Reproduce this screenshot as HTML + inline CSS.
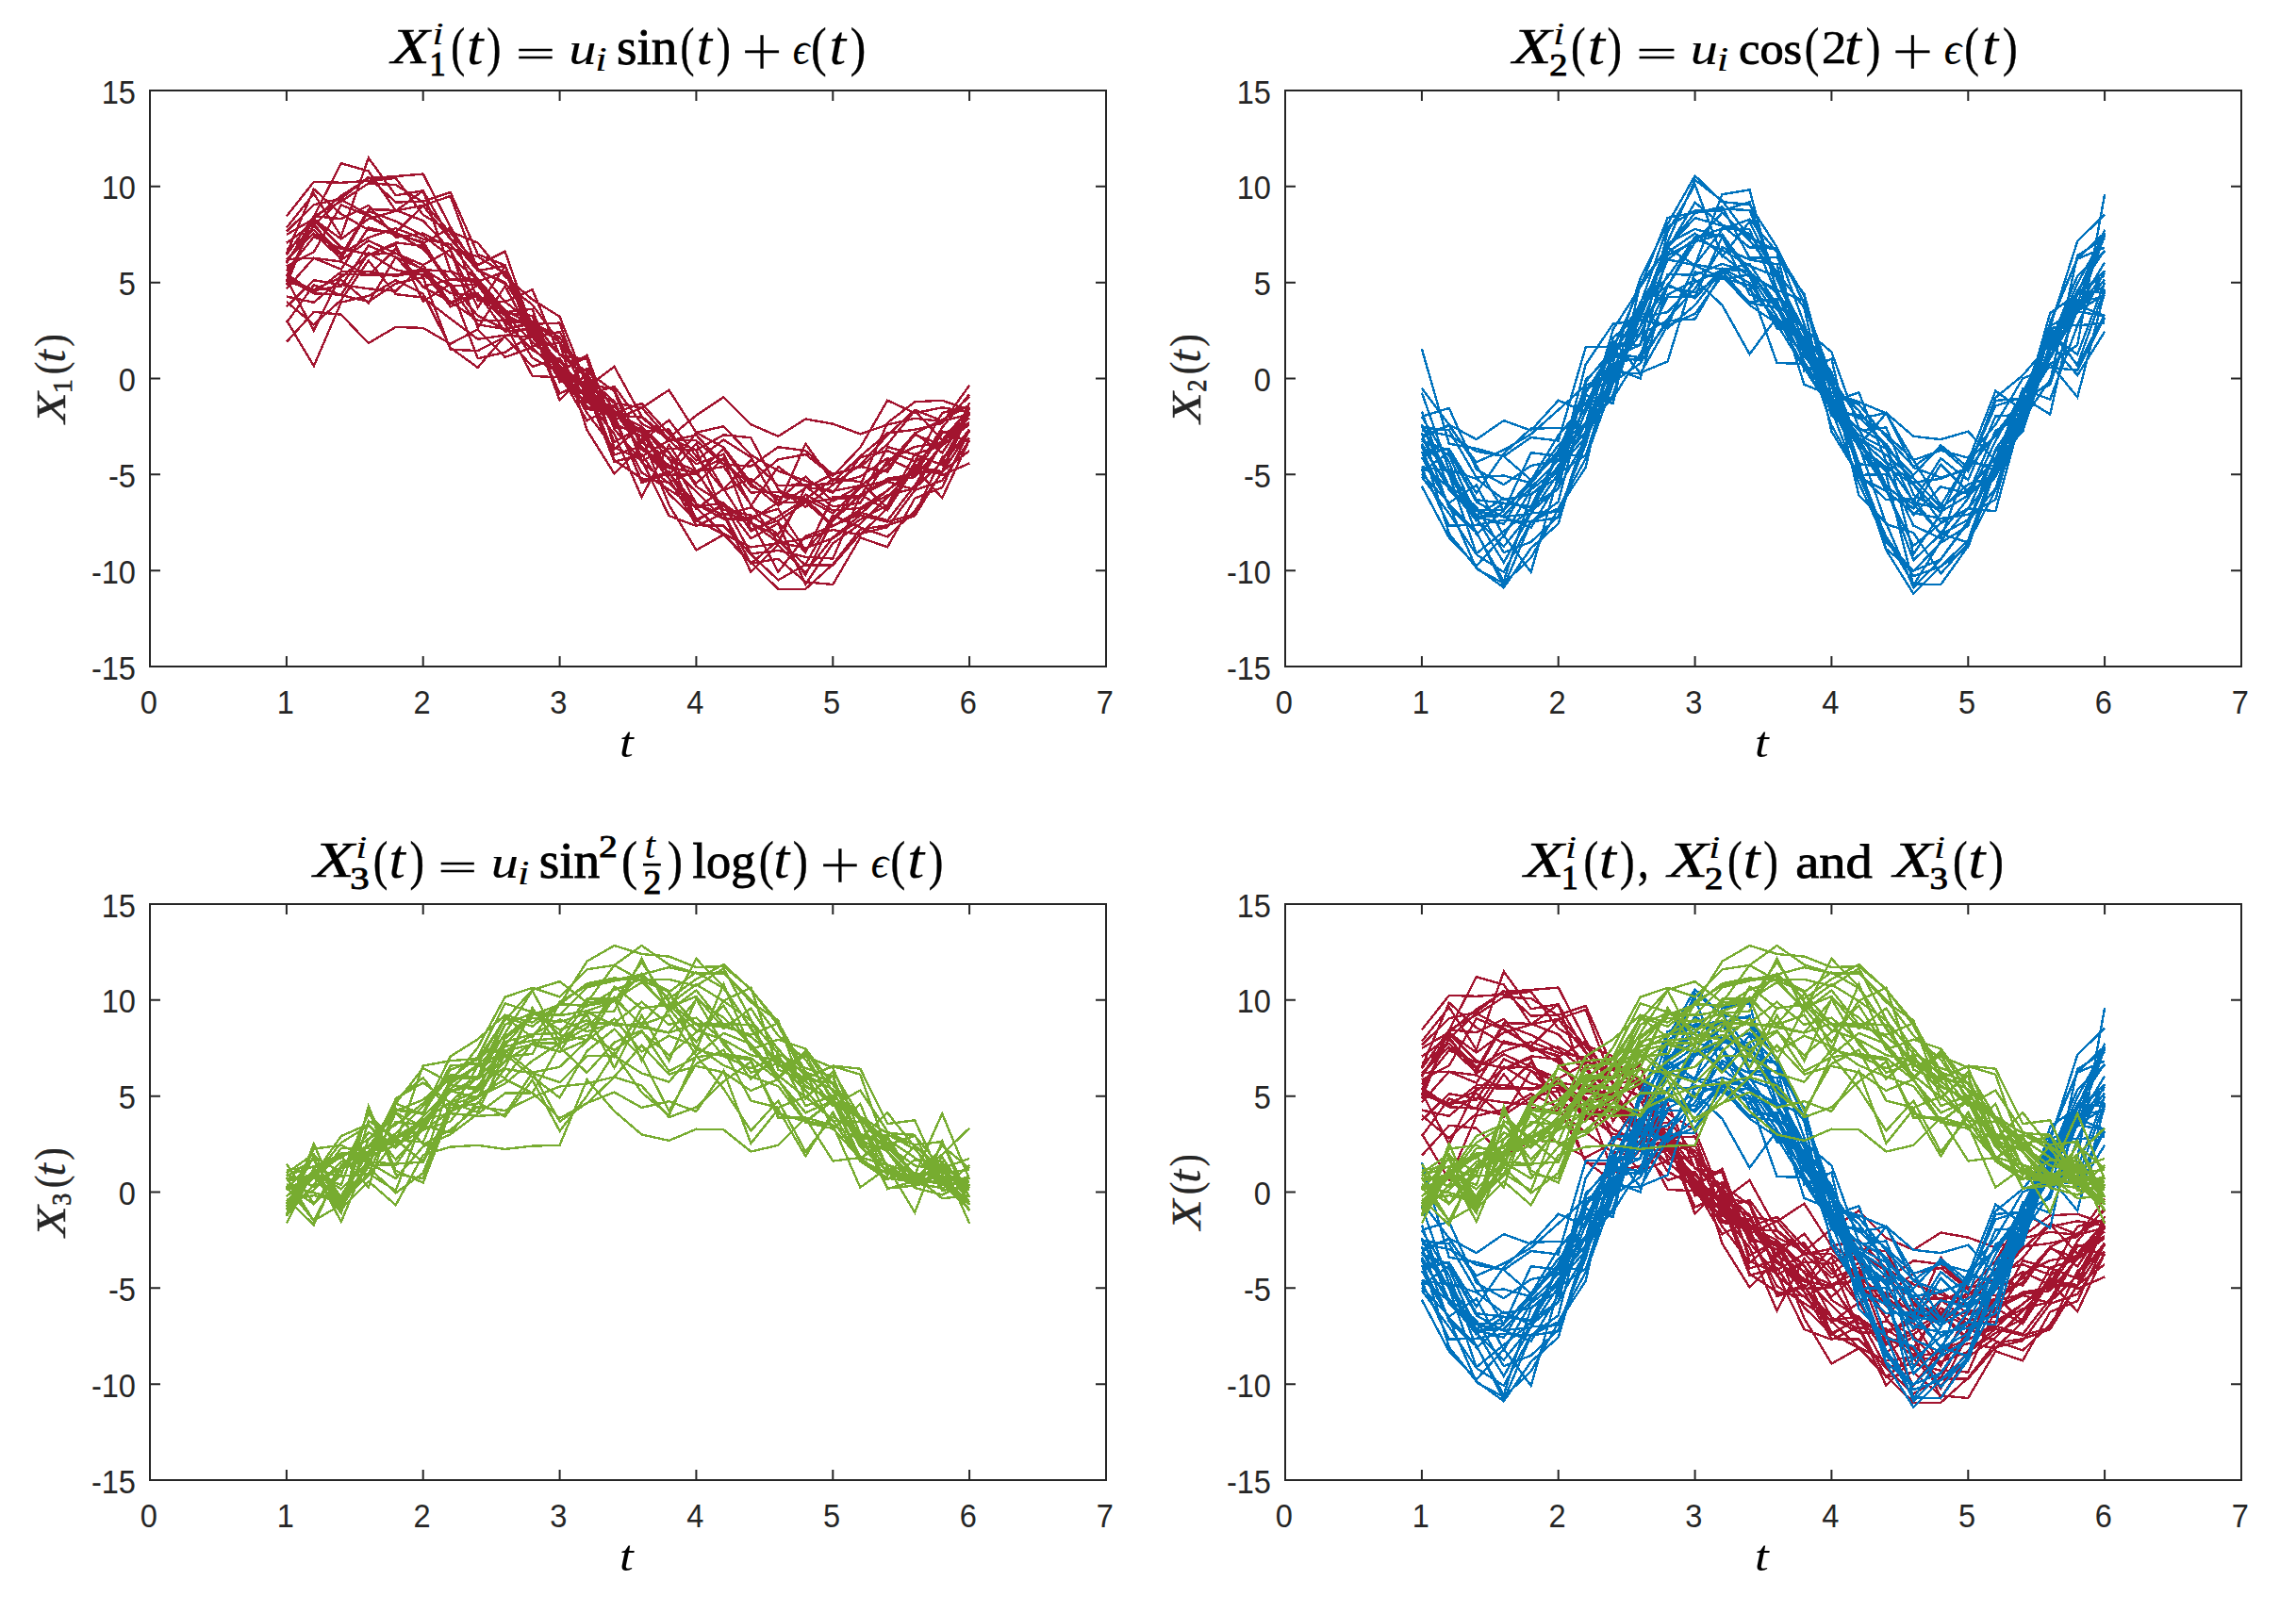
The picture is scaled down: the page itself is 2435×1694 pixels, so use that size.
<!DOCTYPE html>
<html lang="en"><head><meta charset="utf-8"><title>Simulated functional data</title>
<style>
html,body{margin:0;padding:0;background:#fff}
svg{display:block}
text{font-size:100px;fill:#000}
.r{font-family:'Liberation Serif',serif;}
.i{font-family:'Liberation Serif',serif;font-style:italic;}
.b{font-family:'Liberation Serif',serif;font-weight:bold;}
.bi{font-family:'Liberation Serif',serif;font-style:italic;font-weight:bold;}
.s{font-family:'Liberation Sans',sans-serif;}
.l{font-family:'DejaVu Sans Light','DejaVu Sans',sans-serif;font-weight:200;}
.tk text{font-size:32.6px;fill:#262626}
.yl text{fill:#262626;stroke:#262626;stroke-width:.3px;vector-effect:non-scaling-stroke}
.ttl text{stroke:#000;stroke-width:.4px;vector-effect:non-scaling-stroke}
.yl .X{stroke:#262626;stroke-width:.5px;vector-effect:non-scaling-stroke}
.ttl .w{stroke-width:.9px}
.ttl .i{stroke-width:.15px}
.ttl .d{stroke-width:1px}
.ttl .X{stroke-width:.6px}
.yl .d{stroke:#262626;stroke-width:.7px;vector-effect:non-scaling-stroke}
</style></head>
<body>
<svg width="2435" height="1694" viewBox="0 0 2435 1694">
<rect width="2435" height="1694" fill="#fff"/>
<g fill="none" stroke="#A2142F" stroke-width="2.4" stroke-linejoin="miter" shape-rendering="crispEdges">
<polyline points="303.9,287.2 332.8,251.1 361.8,263.8 390.8,269.8 419.7,268.6 448.7,286.1 477.7,288.0 506.7,316.4 535.6,334.5 564.6,379.6 593.6,395.4 622.5,376.7 651.5,455.2 680.5,488.7 709.5,475.8 738.4,477.4 767.4,546.1 796.4,538.4 825.3,553.9 854.3,586.1 883.3,527.1 912.3,525.9 941.2,507.6 970.2,503.4 999.2,459.6 1028.1,449.7"/>
<polyline points="303.9,320.2 332.8,344.3 361.8,318.2 390.8,276.4 419.7,312.1 448.7,315.5 477.7,338.1 506.7,359.8 535.6,355.7 564.6,357.6 593.6,393.1 622.5,409.8 651.5,427.4 680.5,432.7 709.5,413.7 738.4,458.9 767.4,474.5 796.4,511.8 825.3,487.4 854.3,482.0 883.3,504.9 912.3,474.8 941.2,424.7 970.2,438.2 999.2,432.3 1028.1,436.9"/>
<polyline points="303.9,295.9 332.8,350.6 361.8,290.9 390.8,291.5 419.7,291.6 448.7,285.3 477.7,303.5 506.7,380.2 535.6,373.7 564.6,355.1 593.6,403.6 622.5,406.9 651.5,413.2 680.5,474.3 709.5,496.7 738.4,458.9 767.4,452.2 796.4,482.6 825.3,499.5 854.3,510.0 883.3,522.9 912.3,485.2 941.2,478.2 970.2,489.4 999.2,438.0 1028.1,430.7"/>
<polyline points="303.9,290.3 332.8,310.8 361.8,288.3 390.8,288.0 419.7,292.9 448.7,287.6 477.7,325.2 506.7,313.4 535.6,331.3 564.6,327.8 593.6,405.6 622.5,390.9 651.5,435.8 680.5,459.5 709.5,503.8 738.4,503.1 767.4,476.1 796.4,516.0 825.3,526.7 854.3,529.4 883.3,508.0 912.3,511.0 941.2,539.2 970.2,492.4 999.2,504.1 1028.1,491.5"/>
<polyline points="303.9,269.1 332.8,200.5 361.8,227.1 390.8,243.9 419.7,246.5 448.7,218.4 477.7,253.6 506.7,286.9 535.6,299.4 564.6,342.4 593.6,357.8 622.5,400.9 651.5,443.8 680.5,509.9 709.5,500.1 738.4,553.0 767.4,534.0 796.4,587.4 825.3,583.9 854.3,590.8 883.3,592.5 912.3,525.6 941.2,510.9 970.2,519.4 999.2,469.6 1028.1,443.3"/>
<polyline points="303.9,302.3 332.8,229.2 361.8,232.1 390.8,217.9 419.7,251.8 448.7,247.5 477.7,263.0 506.7,272.2 535.6,290.4 564.6,343.8 593.6,342.6 622.5,424.1 651.5,460.4 680.5,527.4 709.5,471.7 738.4,516.0 767.4,534.5 796.4,554.2 825.3,575.4 854.3,581.3 883.3,571.1 912.3,551.0 941.2,535.9 970.2,481.6 999.2,472.7 1028.1,450.0"/>
<polyline points="303.9,282.5 332.8,267.3 361.8,217.4 390.8,229.0 419.7,246.8 448.7,264.3 477.7,296.8 506.7,298.7 535.6,288.0 564.6,355.6 593.6,383.4 622.5,415.7 651.5,440.2 680.5,512.0 709.5,501.9 738.4,539.9 767.4,518.5 796.4,563.6 825.3,547.9 854.3,529.2 883.3,557.5 912.3,545.5 941.2,519.8 970.2,500.4 999.2,500.8 1028.1,437.3"/>
<polyline points="303.9,229.4 332.8,192.9 361.8,193.8 390.8,191.9 419.7,188.9 448.7,227.9 477.7,245.7 506.7,257.5 535.6,293.2 564.6,317.7 593.6,335.9 622.5,409.2 651.5,449.3 680.5,462.5 709.5,535.5 738.4,583.6 767.4,567.1 796.4,597.6 825.3,592.8 854.3,617.3 883.3,620.0 912.3,570.3 941.2,580.3 970.2,528.6 999.2,517.0 1028.1,455.9"/>
<polyline points="303.9,245.6 332.8,217.3 361.8,210.7 390.8,187.8 419.7,214.6 448.7,213.5 477.7,203.9 506.7,269.7 535.6,281.3 564.6,367.0 593.6,363.9 622.5,456.1 651.5,502.5 680.5,473.5 709.5,507.3 738.4,557.2 767.4,557.7 796.4,587.9 825.3,615.3 854.3,598.8 883.3,546.6 912.3,559.4 941.2,569.4 970.2,541.8 999.2,500.9 1028.1,457.4"/>
<polyline points="303.9,306.1 332.8,273.7 361.8,285.7 390.8,241.4 419.7,248.7 448.7,256.5 477.7,303.7 506.7,301.3 535.6,333.8 564.6,362.5 593.6,389.2 622.5,437.9 651.5,476.3 680.5,452.3 709.5,487.2 738.4,499.6 767.4,486.0 796.4,561.9 825.3,552.3 854.3,533.1 883.3,528.9 912.3,528.0 941.2,474.1 970.2,482.2 999.2,493.3 1028.1,455.2"/>
<polyline points="303.9,241.6 332.8,205.4 361.8,250.4 390.8,167.5 419.7,207.2 448.7,202.3 477.7,253.0 506.7,285.0 535.6,320.2 564.6,307.2 593.6,376.9 622.5,381.1 651.5,474.6 680.5,487.7 709.5,547.1 738.4,557.9 767.4,544.4 796.4,597.8 825.3,573.4 854.3,599.6 883.3,599.4 912.3,566.2 941.2,559.1 970.2,520.0 999.2,509.7 1028.1,467.2"/>
<polyline points="303.9,298.7 332.8,307.2 361.8,294.2 390.8,270.4 419.7,259.5 448.7,319.7 477.7,301.1 506.7,334.9 535.6,349.3 564.6,343.4 593.6,392.6 622.5,379.0 651.5,453.2 680.5,455.2 709.5,480.0 738.4,512.7 767.4,486.4 796.4,522.4 825.3,521.8 854.3,529.0 883.3,544.4 912.3,516.1 941.2,492.4 970.2,459.8 999.2,480.4 1028.1,438.1"/>
<polyline points="303.9,342.4 332.8,302.3 361.8,313.1 390.8,320.0 419.7,300.8 448.7,294.0 477.7,370.7 506.7,372.1 535.6,357.3 564.6,388.9 593.6,379.9 622.5,424.5 651.5,440.6 680.5,442.6 709.5,467.5 738.4,461.6 767.4,492.4 796.4,512.9 825.3,536.3 854.3,470.7 883.3,510.9 912.3,484.1 941.2,459.4 970.2,455.8 999.2,448.9 1028.1,408.8"/>
<polyline points="303.9,339.7 332.8,388.3 361.8,320.6 390.8,313.9 419.7,297.2 448.7,311.6 477.7,368.9 506.7,389.9 535.6,356.3 564.6,346.1 593.6,424.7 622.5,395.9 651.5,445.6 680.5,432.3 709.5,466.1 738.4,467.3 767.4,492.6 796.4,494.6 825.3,474.2 854.3,478.1 883.3,503.5 912.3,494.9 941.2,500.6 970.2,459.5 999.2,445.4 1028.1,430.1"/>
<polyline points="303.9,248.9 332.8,232.2 361.8,207.6 390.8,189.1 419.7,187.0 448.7,184.6 477.7,240.7 506.7,287.2 535.6,281.9 564.6,346.1 593.6,387.8 622.5,414.9 651.5,489.8 680.5,481.8 709.5,524.0 738.4,551.9 767.4,566.8 796.4,596.4 825.3,624.9 854.3,624.9 883.3,598.5 912.3,561.6 941.2,557.2 970.2,547.1 999.2,500.1 1028.1,478.2"/>
<polyline points="303.9,275.5 332.8,247.6 361.8,274.3 390.8,224.1 419.7,234.7 448.7,250.0 477.7,272.2 506.7,297.1 535.6,333.0 564.6,349.4 593.6,388.6 622.5,409.6 651.5,482.4 680.5,473.4 709.5,501.9 738.4,534.8 767.4,550.5 796.4,552.1 825.3,606.7 854.3,568.8 883.3,558.1 912.3,540.7 941.2,525.4 970.2,518.0 999.2,489.8 1028.1,437.3"/>
<polyline points="303.9,264.9 332.8,243.8 361.8,271.0 390.8,222.1 419.7,222.9 448.7,234.2 477.7,264.9 506.7,326.3 535.6,282.0 564.6,349.4 593.6,417.6 622.5,403.5 651.5,488.2 680.5,507.5 709.5,511.9 738.4,499.5 767.4,545.0 796.4,551.1 825.3,533.1 854.3,532.4 883.3,558.1 912.3,543.6 941.2,552.1 970.2,514.9 999.2,469.3 1028.1,439.3"/>
<polyline points="303.9,277.5 332.8,239.9 361.8,269.4 390.8,252.1 419.7,242.1 448.7,253.6 477.7,259.0 506.7,296.0 535.6,329.1 564.6,344.8 593.6,397.2 622.5,446.2 651.5,430.7 680.5,469.3 709.5,485.5 738.4,551.1 767.4,536.7 796.4,554.8 825.3,568.9 854.3,610.2 883.3,551.1 912.3,516.9 941.2,509.7 970.2,506.2 999.2,471.9 1028.1,431.5"/>
<polyline points="303.9,299.5 332.8,229.5 361.8,213.7 390.8,194.5 419.7,196.1 448.7,214.5 477.7,247.0 506.7,281.1 535.6,266.7 564.6,350.3 593.6,375.5 622.5,394.1 651.5,415.1 680.5,490.4 709.5,512.6 738.4,538.0 767.4,533.2 796.4,571.1 825.3,555.1 854.3,619.7 883.3,576.4 912.3,555.8 941.2,527.4 970.2,496.3 999.2,528.2 1028.1,466.4"/>
<polyline points="303.9,294.2 332.8,307.8 361.8,303.5 390.8,260.5 419.7,273.0 448.7,285.3 477.7,321.7 506.7,302.5 535.6,341.9 564.6,342.0 593.6,399.1 622.5,427.0 651.5,430.1 680.5,468.0 709.5,445.6 738.4,484.0 767.4,520.0 796.4,508.1 825.3,530.4 854.3,505.6 883.3,531.5 912.3,515.3 941.2,448.5 970.2,426.3 999.2,424.7 1028.1,435.0"/>
<polyline points="303.9,279.2 332.8,233.2 361.8,262.1 390.8,270.6 419.7,257.4 448.7,260.7 477.7,303.4 506.7,344.3 535.6,349.1 564.6,341.7 593.6,394.2 622.5,413.0 651.5,435.6 680.5,457.7 709.5,496.3 738.4,501.0 767.4,540.8 796.4,546.7 825.3,566.7 854.3,524.5 883.3,541.5 912.3,538.9 941.2,520.3 970.2,496.9 999.2,457.3 1028.1,468.7"/>
<polyline points="303.9,270.4 332.8,229.6 361.8,173.2 390.8,181.5 419.7,223.4 448.7,217.9 477.7,208.0 506.7,286.2 535.6,301.1 564.6,323.3 593.6,363.0 622.5,399.1 651.5,468.8 680.5,453.1 709.5,479.4 738.4,534.6 767.4,546.0 796.4,606.8 825.3,578.0 854.3,607.3 883.3,570.2 912.3,546.6 941.2,553.5 970.2,545.4 999.2,484.9 1028.1,464.7"/>
<polyline points="303.9,314.5 332.8,320.8 361.8,296.7 390.8,321.4 419.7,272.5 448.7,304.0 477.7,296.4 506.7,295.8 535.6,343.4 564.6,398.9 593.6,400.3 622.5,433.8 651.5,438.8 680.5,452.4 709.5,503.7 738.4,470.4 767.4,519.0 796.4,487.8 825.3,515.0 854.3,514.4 883.3,513.1 912.3,505.5 941.2,486.1 970.2,499.7 999.2,453.5 1028.1,418.2"/>
<polyline points="303.9,275.0 332.8,273.8 361.8,277.5 390.8,292.3 419.7,263.8 448.7,304.6 477.7,319.8 506.7,340.0 535.6,340.2 564.6,371.5 593.6,387.7 622.5,431.5 651.5,437.9 680.5,428.0 709.5,460.2 738.4,488.1 767.4,466.5 796.4,485.0 825.3,536.2 854.3,517.7 883.3,502.7 912.3,495.4 941.2,471.3 970.2,435.5 999.2,466.8 1028.1,433.0"/>
<polyline points="303.9,362.8 332.8,330.8 361.8,333.7 390.8,364.0 419.7,346.9 448.7,347.9 477.7,364.7 506.7,349.4 535.6,378.9 564.6,368.5 593.6,397.3 622.5,418.4 651.5,410.0 680.5,449.3 709.5,464.4 738.4,440.6 767.4,421.3 796.4,450.2 825.3,462.8 854.3,444.5 883.3,449.6 912.3,460.4 941.2,450.5 970.2,443.8 999.2,446.9 1028.1,439.4"/>
<polyline points="303.9,295.2 332.8,311.3 361.8,312.6 390.8,268.4 419.7,286.3 448.7,291.7 477.7,311.0 506.7,313.2 535.6,339.3 564.6,340.9 593.6,376.0 622.5,400.3 651.5,425.9 680.5,484.4 709.5,467.0 738.4,492.2 767.4,481.8 796.4,536.3 825.3,495.1 854.3,516.1 883.3,537.3 912.3,533.5 941.2,488.2 970.2,474.0 999.2,469.2 1028.1,433.8"/>
<polyline points="303.9,278.5 332.8,232.7 361.8,253.5 390.8,232.3 419.7,223.8 448.7,202.4 477.7,287.2 506.7,300.5 535.6,332.5 564.6,334.9 593.6,397.6 622.5,421.9 651.5,446.1 680.5,501.2 709.5,519.3 738.4,538.4 767.4,566.3 796.4,580.4 825.3,576.3 854.3,571.2 883.3,562.0 912.3,567.3 941.2,538.7 970.2,490.4 999.2,468.2 1028.1,448.0"/>
<polyline points="303.9,325.3 332.8,297.2 361.8,302.0 390.8,306.3 419.7,308.7 448.7,281.4 477.7,321.4 506.7,311.1 535.6,351.5 564.6,348.6 593.6,396.4 622.5,410.6 651.5,388.9 680.5,441.7 709.5,465.0 738.4,477.5 767.4,461.3 796.4,464.3 825.3,519.0 854.3,537.8 883.3,514.2 912.3,493.0 941.2,461.7 970.2,434.7 999.2,446.5 1028.1,420.9"/>
<polyline points="303.9,292.8 332.8,238.5 361.8,211.9 390.8,227.5 419.7,247.1 448.7,258.2 477.7,241.5 506.7,318.4 535.6,320.2 564.6,342.4 593.6,363.0 622.5,420.1 651.5,436.1 680.5,477.1 709.5,493.3 738.4,521.6 767.4,550.3 796.4,548.7 825.3,539.7 854.3,583.6 883.3,552.8 912.3,524.5 941.2,541.3 970.2,495.1 999.2,500.1 1028.1,426.9"/>
<polyline points="303.9,257.7 332.8,236.9 361.8,275.8 390.8,255.3 419.7,268.7 448.7,281.1 477.7,264.9 506.7,347.9 535.6,303.5 564.6,357.7 593.6,352.1 622.5,405.4 651.5,451.7 680.5,458.2 709.5,455.5 738.4,499.6 767.4,495.0 796.4,535.4 825.3,575.4 854.3,516.7 883.3,520.9 912.3,515.0 941.2,497.0 970.2,461.1 999.2,471.8 1028.1,450.3"/>
</g>
<g fill="none" stroke="#0072BD" stroke-width="2.4" stroke-linejoin="miter" shape-rendering="crispEdges">
<polyline points="1507.9,411.7 1536.8,450.4 1565.8,466.1 1594.8,446.1 1623.7,456.6 1652.7,424.7 1681.7,437.2 1710.7,378.6 1739.6,382.2 1768.6,312.8 1797.6,296.8 1826.5,323.7 1855.5,375.6 1884.5,336.7 1913.5,366.3 1942.4,401.1 1971.4,444.2 2000.4,438.0 2029.3,462.8 2058.3,466.1 2087.3,457.7 2116.3,488.6 2145.2,412.6 2174.2,423.8 2203.2,345.4 2232.1,342.5"/>
<polyline points="1507.9,467.2 1536.8,477.8 1565.8,530.2 1594.8,533.7 1623.7,537.2 1652.7,481.0 1681.7,416.4 1710.7,370.6 1739.6,353.8 1768.6,291.0 1797.6,291.6 1826.5,279.9 1855.5,288.9 1884.5,310.4 1913.5,375.9 1942.4,423.2 1971.4,464.7 2000.4,490.9 2029.3,531.5 2058.3,486.2 2087.3,509.2 2116.3,441.6 2145.2,439.5 2174.2,371.8 2203.2,329.7 2232.1,312.8"/>
<polyline points="1507.9,370.1 1536.8,470.7 1565.8,475.8 1594.8,484.0 1623.7,509.3 1652.7,481.8 1681.7,414.0 1710.7,393.3 1739.6,354.5 1768.6,340.1 1797.6,338.6 1826.5,288.4 1855.5,321.5 1884.5,326.3 1913.5,383.6 1942.4,429.0 1971.4,461.4 2000.4,475.8 2029.3,533.0 2058.3,539.3 2087.3,513.6 2116.3,505.5 2145.2,440.3 2174.2,354.2 2203.2,376.1 2232.1,299.5"/>
<polyline points="1507.9,461.9 1536.8,451.7 1565.8,490.3 1594.8,477.2 1623.7,460.6 1652.7,434.8 1681.7,408.9 1710.7,394.8 1739.6,396.4 1768.6,345.1 1797.6,332.9 1826.5,292.3 1855.5,320.2 1884.5,317.4 1913.5,408.0 1942.4,419.5 1971.4,429.0 2000.4,463.6 2029.3,494.9 2058.3,475.0 2087.3,500.3 2116.3,421.8 2145.2,398.2 2174.2,364.4 2203.2,398.1 2232.1,351.8"/>
<polyline points="1507.9,467.4 1536.8,482.9 1565.8,547.9 1594.8,555.8 1623.7,508.1 1652.7,479.2 1681.7,451.2 1710.7,422.4 1739.6,375.4 1768.6,314.9 1797.6,314.5 1826.5,251.1 1855.5,291.4 1884.5,307.6 1913.5,319.1 1942.4,401.6 1971.4,492.1 2000.4,495.6 2029.3,513.9 2058.3,553.6 2087.3,540.1 2116.3,478.2 2145.2,455.8 2174.2,351.1 2203.2,387.1 2232.1,306.6"/>
<polyline points="1507.9,470.6 1536.8,518.7 1565.8,542.0 1594.8,548.1 1623.7,545.0 1652.7,481.8 1681.7,484.0 1710.7,389.3 1739.6,346.2 1768.6,275.4 1797.6,253.2 1826.5,265.2 1855.5,281.9 1884.5,293.5 1913.5,354.0 1942.4,433.4 1971.4,442.4 2000.4,472.0 2029.3,587.7 2058.3,544.9 2087.3,486.9 2116.3,462.9 2145.2,429.2 2174.2,377.3 2203.2,326.4 2232.1,278.3"/>
<polyline points="1507.9,453.2 1536.8,456.3 1565.8,506.5 1594.8,504.5 1623.7,512.3 1652.7,472.1 1681.7,449.1 1710.7,401.2 1739.6,336.4 1768.6,331.1 1797.6,299.5 1826.5,286.3 1855.5,307.5 1884.5,338.6 1913.5,378.8 1942.4,403.5 1971.4,472.7 2000.4,438.3 2029.3,496.0 2058.3,506.5 2087.3,498.1 2116.3,460.3 2145.2,422.4 2174.2,408.2 2203.2,323.8 2232.1,335.0"/>
<polyline points="1507.9,482.8 1536.8,476.1 1565.8,523.0 1594.8,481.1 1623.7,454.5 1652.7,454.1 1681.7,452.9 1710.7,419.2 1739.6,330.6 1768.6,348.2 1797.6,323.7 1826.5,286.3 1855.5,280.1 1884.5,322.5 1913.5,374.7 1942.4,408.7 1971.4,435.6 2000.4,474.9 2029.3,504.0 2058.3,472.3 2087.3,495.9 2116.3,430.5 2145.2,421.4 2174.2,346.8 2203.2,388.0 2232.1,333.6"/>
<polyline points="1507.9,474.3 1536.8,515.1 1565.8,537.5 1594.8,586.1 1623.7,574.8 1652.7,547.8 1681.7,467.2 1710.7,376.0 1739.6,327.7 1768.6,294.1 1797.6,252.4 1826.5,242.4 1855.5,243.2 1884.5,312.5 1913.5,364.7 1942.4,451.0 1971.4,503.9 2000.4,503.1 2029.3,620.9 2058.3,573.9 2087.3,538.8 2116.3,505.8 2145.2,447.1 2174.2,369.1 2203.2,308.2 2232.1,265.3"/>
<polyline points="1507.9,495.2 1536.8,499.5 1565.8,541.0 1594.8,541.1 1623.7,512.8 1652.7,477.9 1681.7,411.2 1710.7,406.0 1739.6,327.2 1768.6,270.8 1797.6,256.3 1826.5,248.6 1855.5,290.3 1884.5,323.4 1913.5,349.1 1942.4,440.8 1971.4,464.8 2000.4,517.2 2029.3,534.8 2058.3,565.5 2087.3,528.6 2116.3,467.8 2145.2,416.5 2174.2,359.3 2203.2,331.5 2232.1,296.3"/>
<polyline points="1507.9,505.8 1536.8,544.7 1565.8,588.2 1594.8,606.9 1623.7,552.9 1652.7,539.3 1681.7,486.4 1710.7,407.2 1739.6,336.6 1768.6,256.4 1797.6,191.0 1826.5,212.9 1855.5,251.9 1884.5,266.0 1913.5,313.9 1942.4,434.1 1971.4,512.3 2000.4,575.0 2029.3,605.5 2058.3,593.4 2087.3,554.3 2116.3,492.0 2145.2,422.5 2174.2,343.3 2203.2,274.6 2232.1,262.6"/>
<polyline points="1507.9,465.2 1536.8,503.2 1565.8,546.9 1594.8,528.6 1623.7,542.5 1652.7,518.2 1681.7,402.9 1710.7,375.1 1739.6,331.5 1768.6,258.2 1797.6,243.0 1826.5,251.2 1855.5,312.5 1884.5,323.0 1913.5,371.5 1942.4,437.1 1971.4,472.9 2000.4,495.6 2029.3,557.6 2058.3,571.1 2087.3,491.1 2116.3,494.2 2145.2,451.1 2174.2,367.5 2203.2,310.2 2232.1,292.1"/>
<polyline points="1507.9,472.3 1536.8,566.1 1565.8,602.2 1594.8,623.3 1623.7,581.4 1652.7,555.5 1681.7,456.9 1710.7,385.2 1739.6,295.6 1768.6,237.6 1797.6,186.4 1826.5,214.2 1855.5,216.9 1884.5,262.4 1913.5,322.2 1942.4,408.6 1971.4,497.0 2000.4,583.6 2029.3,629.8 2058.3,600.5 2087.3,573.3 2116.3,489.9 2145.2,433.9 2174.2,347.1 2203.2,255.9 2232.1,227.5"/>
<polyline points="1507.9,515.8 1536.8,570.3 1565.8,600.4 1594.8,568.1 1623.7,606.8 1652.7,504.3 1681.7,449.3 1710.7,349.4 1739.6,304.6 1768.6,231.0 1797.6,225.5 1826.5,221.6 1855.5,223.0 1884.5,294.7 1913.5,350.4 1942.4,401.0 1971.4,525.5 2000.4,554.8 2029.3,623.2 2058.3,593.2 2087.3,552.9 2116.3,518.2 2145.2,427.1 2174.2,405.0 2203.2,271.1 2232.1,252.6"/>
<polyline points="1507.9,441.9 1536.8,489.8 1565.8,566.6 1594.8,541.5 1623.7,509.5 1652.7,461.8 1681.7,427.4 1710.7,385.3 1739.6,379.7 1768.6,267.6 1797.6,247.7 1826.5,270.7 1855.5,293.7 1884.5,348.5 1913.5,348.9 1942.4,373.4 1971.4,453.8 2000.4,471.0 2029.3,513.4 2058.3,544.4 2087.3,487.8 2116.3,499.1 2145.2,431.6 2174.2,371.0 2203.2,313.0 2232.1,287.7"/>
<polyline points="1507.9,450.2 1536.8,516.3 1565.8,552.4 1594.8,533.8 1623.7,537.7 1652.7,517.9 1681.7,465.0 1710.7,405.2 1739.6,385.5 1768.6,338.3 1797.6,306.3 1826.5,262.1 1855.5,275.5 1884.5,280.3 1913.5,389.8 1942.4,431.5 1971.4,454.5 2000.4,515.1 2029.3,539.5 2058.3,492.7 2087.3,521.7 2116.3,503.6 2145.2,450.5 2174.2,367.9 2203.2,319.3 2232.1,315.3"/>
<polyline points="1507.9,494.4 1536.8,516.9 1565.8,549.5 1594.8,596.8 1623.7,544.6 1652.7,502.2 1681.7,482.8 1710.7,395.8 1739.6,320.8 1768.6,275.3 1797.6,281.2 1826.5,243.3 1855.5,232.7 1884.5,267.2 1913.5,393.5 1942.4,380.6 1971.4,505.7 2000.4,520.9 2029.3,544.1 2058.3,549.9 2087.3,545.8 2116.3,530.0 2145.2,425.9 2174.2,386.6 2203.2,365.9 2232.1,206.2"/>
<polyline points="1507.9,465.6 1536.8,503.5 1565.8,587.2 1594.8,563.6 1623.7,539.9 1652.7,493.4 1681.7,457.9 1710.7,418.7 1739.6,323.4 1768.6,303.4 1797.6,256.9 1826.5,225.7 1855.5,255.0 1884.5,291.1 1913.5,354.3 1942.4,394.6 1971.4,472.3 2000.4,556.1 2029.3,565.1 2058.3,608.3 2087.3,576.2 2116.3,488.7 2145.2,457.7 2174.2,368.9 2203.2,321.5 2232.1,243.7"/>
<polyline points="1507.9,416.6 1536.8,498.6 1565.8,507.9 1594.8,530.0 1623.7,524.6 1652.7,499.7 1681.7,386.7 1710.7,343.5 1739.6,339.8 1768.6,345.6 1797.6,280.6 1826.5,285.6 1855.5,287.7 1884.5,324.6 1913.5,366.9 1942.4,408.0 1971.4,470.7 2000.4,499.9 2029.3,546.3 2058.3,516.3 2087.3,523.8 2116.3,456.9 2145.2,441.1 2174.2,380.2 2203.2,330.5 2232.1,335.1"/>
<polyline points="1507.9,496.6 1536.8,557.7 1565.8,556.8 1594.8,551.7 1623.7,553.5 1652.7,532.2 1681.7,419.0 1710.7,428.0 1739.6,300.9 1768.6,262.8 1797.6,281.4 1826.5,206.2 1855.5,201.3 1884.5,310.5 1913.5,348.5 1942.4,430.0 1971.4,490.7 2000.4,582.3 2029.3,605.8 2058.3,575.8 2087.3,557.8 2116.3,476.7 2145.2,435.6 2174.2,332.0 2203.2,312.0 2232.1,244.3"/>
<polyline points="1507.9,502.4 1536.8,533.4 1565.8,514.6 1594.8,568.9 1623.7,519.4 1652.7,496.6 1681.7,463.6 1710.7,400.1 1739.6,346.3 1768.6,303.5 1797.6,251.1 1826.5,249.1 1855.5,287.7 1884.5,328.3 1913.5,358.6 1942.4,424.2 1971.4,456.6 2000.4,453.5 2029.3,524.6 2058.3,542.8 2087.3,525.5 2116.3,502.3 2145.2,445.3 2174.2,402.8 2203.2,329.1 2232.1,289.3"/>
<polyline points="1507.9,459.2 1536.8,539.0 1565.8,564.9 1594.8,616.7 1623.7,524.5 1652.7,506.1 1681.7,405.1 1710.7,369.9 1739.6,304.3 1768.6,261.7 1797.6,226.0 1826.5,219.4 1855.5,273.7 1884.5,273.1 1913.5,312.1 1942.4,419.1 1971.4,475.2 2000.4,517.2 2029.3,594.2 2058.3,566.4 2087.3,575.5 2116.3,520.3 2145.2,445.6 2174.2,369.1 2203.2,300.6 2232.1,248.2"/>
<polyline points="1507.9,500.7 1536.8,479.4 1565.8,532.3 1594.8,548.5 1623.7,559.6 1652.7,510.7 1681.7,435.9 1710.7,378.7 1739.6,365.9 1768.6,245.8 1797.6,196.2 1826.5,272.3 1855.5,235.0 1884.5,295.8 1913.5,362.8 1942.4,400.5 1971.4,503.4 2000.4,530.1 2029.3,529.3 2058.3,567.0 2087.3,551.3 2116.3,490.4 2145.2,440.9 2174.2,346.0 2203.2,329.5 2232.1,249.6"/>
<polyline points="1507.9,463.9 1536.8,450.5 1565.8,494.0 1594.8,541.8 1623.7,480.2 1652.7,483.8 1681.7,432.2 1710.7,361.6 1739.6,395.5 1768.6,383.4 1797.6,288.4 1826.5,296.1 1855.5,291.4 1884.5,335.6 1913.5,389.8 1942.4,416.7 1971.4,426.3 2000.4,438.4 2029.3,488.0 2058.3,477.9 2087.3,485.6 2116.3,450.3 2145.2,401.5 2174.2,389.9 2203.2,392.7 2232.1,336.8"/>
<polyline points="1507.9,452.1 1536.8,503.7 1565.8,550.6 1594.8,579.6 1623.7,544.0 1652.7,543.1 1681.7,471.8 1710.7,371.0 1739.6,338.3 1768.6,262.8 1797.6,231.2 1826.5,239.5 1855.5,262.6 1884.5,263.6 1913.5,343.9 1942.4,429.3 1971.4,467.8 2000.4,520.4 2029.3,578.9 2058.3,555.0 2087.3,539.3 2116.3,542.2 2145.2,435.5 2174.2,378.4 2203.2,321.7 2232.1,303.2"/>
<polyline points="1507.9,484.9 1536.8,535.5 1565.8,563.9 1594.8,622.3 1623.7,553.6 1652.7,549.0 1681.7,459.1 1710.7,358.3 1739.6,333.9 1768.6,263.9 1797.6,214.8 1826.5,238.7 1855.5,248.0 1884.5,288.5 1913.5,326.4 1942.4,457.7 1971.4,504.8 2000.4,569.3 2029.3,611.1 2058.3,601.0 2087.3,580.3 2116.3,498.0 2145.2,451.0 2174.2,364.4 2203.2,292.6 2232.1,266.9"/>
<polyline points="1507.9,441.8 1536.8,432.9 1565.8,497.9 1594.8,514.1 1623.7,494.0 1652.7,488.5 1681.7,416.9 1710.7,374.6 1739.6,379.3 1768.6,342.3 1797.6,281.6 1826.5,295.2 1855.5,302.6 1884.5,385.0 1913.5,386.0 1942.4,425.9 1971.4,416.4 2000.4,489.8 2029.3,511.7 2058.3,507.8 2087.3,496.1 2116.3,424.9 2145.2,422.7 2174.2,348.1 2203.2,344.7 2232.1,287.2"/>
<polyline points="1507.9,479.1 1536.8,536.0 1565.8,603.3 1594.8,618.8 1623.7,591.6 1652.7,539.8 1681.7,495.8 1710.7,366.1 1739.6,323.2 1768.6,240.5 1797.6,223.3 1826.5,223.5 1855.5,214.2 1884.5,307.0 1913.5,369.0 1942.4,424.2 1971.4,496.0 2000.4,571.0 2029.3,619.5 2058.3,620.0 2087.3,579.3 2116.3,488.6 2145.2,456.2 2174.2,341.8 2203.2,274.2 2232.1,246.8"/>
<polyline points="1507.9,436.4 1536.8,519.6 1565.8,548.2 1594.8,546.7 1623.7,517.0 1652.7,488.1 1681.7,448.5 1710.7,390.5 1739.6,401.5 1768.6,301.7 1797.6,316.5 1826.5,284.6 1855.5,300.0 1884.5,343.9 1913.5,390.7 1942.4,434.7 1971.4,464.3 2000.4,482.7 2029.3,507.5 2058.3,538.1 2087.3,518.9 2116.3,486.4 2145.2,421.4 2174.2,439.6 2203.2,309.3 2232.1,310.1"/>
<polyline points="1507.9,456.3 1536.8,462.0 1565.8,478.7 1594.8,484.0 1623.7,464.0 1652.7,467.5 1681.7,368.3 1710.7,368.0 1739.6,365.6 1768.6,304.0 1797.6,310.1 1826.5,292.7 1855.5,323.7 1884.5,342.9 1913.5,362.1 1942.4,436.3 1971.4,440.0 2000.4,460.7 2029.3,487.9 2058.3,536.0 2087.3,489.2 2116.3,414.7 2145.2,435.1 2174.2,385.9 2203.2,421.3 2232.1,309.3"/>
</g>
<g fill="none" stroke="#77AC30" stroke-width="2.4" stroke-linejoin="miter" shape-rendering="crispEdges">
<polyline points="303.9,1247.7 332.8,1230.2 361.8,1275.7 390.8,1238.1 419.7,1265.5 448.7,1244.2 477.7,1169.6 506.7,1179.8 535.6,1118.2 564.6,1142.2 593.6,1164.4 622.5,1114.8 651.5,1091.6 680.5,1121.8 709.5,1178.6 738.4,1128.4 767.4,1113.6 796.4,1167.5 825.3,1174.9 854.3,1163.2 883.3,1188.4 912.3,1231.0 941.2,1244.1 970.2,1255.9 999.2,1246.9 1028.1,1258.6"/>
<polyline points="303.9,1240.9 332.8,1237.7 361.8,1283.5 390.8,1208.8 419.7,1178.2 448.7,1166.6 477.7,1141.2 506.7,1144.4 535.6,1126.0 564.6,1070.5 593.6,1097.5 622.5,1103.2 651.5,1046.3 680.5,1069.7 709.5,1065.6 738.4,1092.8 767.4,1102.8 796.4,1119.2 825.3,1125.4 854.3,1136.4 883.3,1197.7 912.3,1170.8 941.2,1239.8 970.2,1251.8 999.2,1233.5 1028.1,1260.0"/>
<polyline points="303.9,1288.2 332.8,1213.2 361.8,1280.7 390.8,1236.3 419.7,1235.8 448.7,1193.7 477.7,1201.3 506.7,1169.4 535.6,1184.3 564.6,1145.6 593.6,1199.8 622.5,1162.3 651.5,1117.0 680.5,1158.7 709.5,1183.2 738.4,1119.8 767.4,1155.0 796.4,1199.4 825.3,1167.6 854.3,1221.6 883.3,1184.6 912.3,1202.0 941.2,1260.4 970.2,1257.6 999.2,1250.4 1028.1,1261.9"/>
<polyline points="303.9,1280.2 332.8,1240.1 361.8,1296.1 390.8,1226.4 419.7,1202.1 448.7,1173.1 477.7,1143.4 506.7,1144.2 535.6,1087.0 564.6,1074.6 593.6,1077.1 622.5,1072.4 651.5,1062.2 680.5,1033.0 709.5,1059.4 738.4,1038.6 767.4,1023.0 796.4,1049.7 825.3,1084.4 854.3,1136.6 883.3,1172.9 912.3,1156.5 941.2,1200.2 970.2,1215.0 999.2,1244.9 1028.1,1240.5"/>
<polyline points="303.9,1247.1 332.8,1237.2 361.8,1228.3 390.8,1208.0 419.7,1193.2 448.7,1170.2 477.7,1140.5 506.7,1142.3 535.6,1079.0 564.6,1088.9 593.6,1065.5 622.5,1066.7 651.5,1061.9 680.5,1020.6 709.5,1063.1 738.4,1087.0 767.4,1088.9 796.4,1097.6 825.3,1085.2 854.3,1137.3 883.3,1148.2 912.3,1207.1 941.2,1203.8 970.2,1214.4 999.2,1211.0 1028.1,1278.2"/>
<polyline points="303.9,1252.1 332.8,1249.5 361.8,1268.4 390.8,1222.9 419.7,1208.7 448.7,1232.6 477.7,1149.3 506.7,1131.2 535.6,1120.8 564.6,1117.9 593.6,1064.0 622.5,1067.6 651.5,1050.1 680.5,1038.3 709.5,1072.3 738.4,1050.4 767.4,1086.7 796.4,1099.8 825.3,1123.9 854.3,1144.8 883.3,1148.7 912.3,1186.3 941.2,1215.6 970.2,1236.4 999.2,1240.6 1028.1,1284.4"/>
<polyline points="303.9,1273.4 332.8,1268.1 361.8,1274.5 390.8,1244.8 419.7,1262.8 448.7,1186.9 477.7,1181.2 506.7,1183.9 535.6,1181.9 564.6,1137.9 593.6,1189.7 622.5,1170.0 651.5,1158.6 680.5,1174.9 709.5,1168.2 738.4,1179.0 767.4,1135.8 796.4,1212.8 825.3,1176.7 854.3,1226.4 883.3,1179.7 912.3,1231.7 941.2,1251.2 970.2,1230.3 999.2,1231.9 1028.1,1297.7"/>
<polyline points="303.9,1271.2 332.8,1299.3 361.8,1235.6 390.8,1221.2 419.7,1205.6 448.7,1188.7 477.7,1158.2 506.7,1143.3 535.6,1096.1 564.6,1050.8 593.6,1105.2 622.5,1063.4 651.5,1060.6 680.5,1041.9 709.5,1068.6 738.4,1056.9 767.4,1090.9 796.4,1069.6 825.3,1113.7 854.3,1140.7 883.3,1155.3 912.3,1188.8 941.2,1247.1 970.2,1215.1 999.2,1240.5 1028.1,1261.9"/>
<polyline points="303.9,1244.3 332.8,1224.1 361.8,1271.0 390.8,1237.3 419.7,1165.3 448.7,1148.5 477.7,1169.6 506.7,1157.3 535.6,1125.9 564.6,1106.3 593.6,1115.6 622.5,1073.4 651.5,1087.6 680.5,1086.1 709.5,1054.2 738.4,1086.5 767.4,1086.2 796.4,1087.0 825.3,1112.1 854.3,1151.7 883.3,1167.1 912.3,1207.7 941.2,1180.2 970.2,1216.9 999.2,1262.9 1028.1,1258.7"/>
<polyline points="303.9,1249.9 332.8,1246.8 361.8,1205.0 390.8,1192.5 419.7,1230.0 448.7,1198.2 477.7,1189.4 506.7,1151.5 535.6,1132.4 564.6,1069.0 593.6,1110.7 622.5,1137.8 651.5,1105.8 680.5,1093.0 709.5,1136.3 738.4,1121.2 767.4,1117.9 796.4,1122.2 825.3,1145.4 854.3,1180.3 883.3,1167.6 912.3,1212.5 941.2,1235.3 970.2,1255.0 999.2,1260.3 1028.1,1249.9"/>
<polyline points="303.9,1289.3 332.8,1256.7 361.8,1218.0 390.8,1217.7 419.7,1176.6 448.7,1180.1 477.7,1120.5 506.7,1102.4 535.6,1076.6 564.6,1084.6 593.6,1065.6 622.5,1019.7 651.5,1003.0 680.5,1012.0 709.5,1014.6 738.4,1026.0 767.4,1025.1 796.4,1049.1 825.3,1087.6 854.3,1143.8 883.3,1131.0 912.3,1139.7 941.2,1221.6 970.2,1250.4 999.2,1236.0 1028.1,1275.0"/>
<polyline points="303.9,1297.7 332.8,1240.7 361.8,1247.5 390.8,1245.2 419.7,1180.0 448.7,1214.0 477.7,1198.6 506.7,1173.9 535.6,1178.1 564.6,1163.9 593.6,1152.5 622.5,1149.4 651.5,1142.3 680.5,1108.7 709.5,1139.6 738.4,1130.8 767.4,1137.5 796.4,1156.9 825.3,1145.0 854.3,1189.2 883.3,1167.8 912.3,1231.9 941.2,1244.7 970.2,1246.9 999.2,1256.7 1028.1,1252.8"/>
<polyline points="303.9,1234.8 332.8,1276.9 361.8,1238.1 390.8,1226.9 419.7,1214.7 448.7,1199.0 477.7,1150.8 506.7,1156.2 535.6,1101.6 564.6,1079.6 593.6,1084.1 622.5,1074.7 651.5,1072.6 680.5,1016.7 709.5,1072.3 738.4,1017.0 767.4,1046.7 796.4,1091.5 825.3,1131.5 854.3,1120.3 883.3,1132.5 912.3,1202.6 941.2,1214.4 970.2,1204.8 999.2,1239.3 1028.1,1228.9"/>
<polyline points="303.9,1274.4 332.8,1246.2 361.8,1284.2 390.8,1173.5 419.7,1241.8 448.7,1254.5 477.7,1179.2 506.7,1164.7 535.6,1114.3 564.6,1137.7 593.6,1131.7 622.5,1104.1 651.5,1080.6 680.5,1115.6 709.5,1098.7 738.4,1109.8 767.4,1130.1 796.4,1141.9 825.3,1152.2 854.3,1190.4 883.3,1167.4 912.3,1230.7 941.2,1203.3 970.2,1218.9 999.2,1251.5 1028.1,1282.9"/>
<polyline points="303.9,1269.1 332.8,1245.0 361.8,1225.0 390.8,1216.0 419.7,1180.3 448.7,1195.5 477.7,1157.1 506.7,1164.4 535.6,1105.2 564.6,1097.0 593.6,1096.1 622.5,1059.6 651.5,1059.7 680.5,1125.1 709.5,1069.3 738.4,1105.5 767.4,1061.4 796.4,1047.8 825.3,1134.6 854.3,1146.9 883.3,1172.6 912.3,1184.2 941.2,1202.1 970.2,1203.8 999.2,1261.5 1028.1,1235.7"/>
<polyline points="303.9,1279.5 332.8,1248.5 361.8,1212.1 390.8,1194.1 419.7,1216.9 448.7,1184.3 477.7,1155.4 506.7,1128.7 535.6,1079.3 564.6,1100.1 593.6,1062.8 622.5,1045.6 651.5,1039.4 680.5,1033.7 709.5,1026.1 738.4,1032.4 767.4,1031.4 796.4,1063.1 825.3,1082.4 854.3,1165.7 883.3,1136.7 912.3,1185.1 941.2,1212.1 970.2,1247.2 999.2,1271.2 1028.1,1268.2"/>
<polyline points="303.9,1276.0 332.8,1246.0 361.8,1286.8 390.8,1189.0 419.7,1206.5 448.7,1199.1 477.7,1179.0 506.7,1163.6 535.6,1149.4 564.6,1125.3 593.6,1106.5 622.5,1097.9 651.5,1113.8 680.5,1094.7 709.5,1119.2 738.4,1095.0 767.4,1066.9 796.4,1111.4 825.3,1144.4 854.3,1190.8 883.3,1197.0 912.3,1228.9 941.2,1206.1 970.2,1251.5 999.2,1247.9 1028.1,1277.7"/>
<polyline points="303.9,1262.6 332.8,1228.2 361.8,1282.6 390.8,1253.0 419.7,1278.3 448.7,1225.1 477.7,1216.6 506.7,1214.8 535.6,1218.9 564.6,1215.6 593.6,1214.8 622.5,1145.1 651.5,1178.6 680.5,1203.4 709.5,1209.9 738.4,1197.7 767.4,1198.3 796.4,1221.5 825.3,1214.8 854.3,1185.9 883.3,1231.5 912.3,1228.1 941.2,1249.8 970.2,1253.8 999.2,1253.2 1028.1,1248.8"/>
<polyline points="303.9,1261.3 332.8,1247.0 361.8,1226.8 390.8,1259.6 419.7,1170.3 448.7,1132.9 477.7,1148.4 506.7,1130.0 535.6,1143.5 564.6,1106.1 593.6,1106.8 622.5,1089.9 651.5,1059.5 680.5,1087.0 709.5,1076.6 738.4,1119.5 767.4,1095.8 796.4,1107.6 825.3,1140.7 854.3,1163.8 883.3,1141.0 912.3,1216.3 941.2,1242.4 970.2,1250.1 999.2,1224.6 1028.1,1196.7"/>
<polyline points="303.9,1257.7 332.8,1277.2 361.8,1245.4 390.8,1181.0 419.7,1212.6 448.7,1130.5 477.7,1125.2 506.7,1122.9 535.6,1082.1 564.6,1050.0 593.6,1041.1 622.5,1063.4 651.5,1024.0 680.5,1040.0 709.5,1052.2 738.4,1031.3 767.4,1048.3 796.4,1090.2 825.3,1129.0 854.3,1144.0 883.3,1130.5 912.3,1133.7 941.2,1192.1 970.2,1188.3 999.2,1252.4 1028.1,1259.1"/>
<polyline points="303.9,1258.7 332.8,1294.8 361.8,1278.0 390.8,1232.4 419.7,1234.5 448.7,1232.6 477.7,1175.2 506.7,1170.5 535.6,1133.9 564.6,1138.3 593.6,1148.1 622.5,1120.3 651.5,1120.1 680.5,1138.5 709.5,1147.6 738.4,1113.6 767.4,1120.4 796.4,1124.3 825.3,1185.6 854.3,1185.5 883.3,1193.7 912.3,1208.8 941.2,1243.4 970.2,1251.6 999.2,1237.0 1028.1,1257.4"/>
<polyline points="303.9,1282.9 332.8,1218.6 361.8,1214.8 390.8,1228.2 419.7,1170.5 448.7,1182.1 477.7,1130.5 506.7,1128.3 535.6,1108.4 564.6,1075.8 593.6,1076.6 622.5,1047.3 651.5,1040.4 680.5,1035.7 709.5,1051.3 738.4,1114.0 767.4,1043.9 796.4,1113.4 825.3,1102.7 854.3,1112.4 883.3,1150.5 912.3,1185.5 941.2,1208.7 970.2,1228.0 999.2,1253.0 1028.1,1273.9"/>
<polyline points="303.9,1279.4 332.8,1226.3 361.8,1243.7 390.8,1201.1 419.7,1217.6 448.7,1188.8 477.7,1169.0 506.7,1142.9 535.6,1114.4 564.6,1108.0 593.6,1115.8 622.5,1103.3 651.5,1057.7 680.5,1088.1 709.5,1095.4 738.4,1060.6 767.4,1079.5 796.4,1107.8 825.3,1142.2 854.3,1118.4 883.3,1169.1 912.3,1186.4 941.2,1221.7 970.2,1260.1 999.2,1267.4 1028.1,1253.2"/>
<polyline points="303.9,1256.5 332.8,1265.3 361.8,1272.4 390.8,1247.3 419.7,1209.4 448.7,1211.5 477.7,1144.0 506.7,1121.3 535.6,1064.3 564.6,1073.7 593.6,1092.3 622.5,1082.4 651.5,1121.1 680.5,1069.6 709.5,1065.5 738.4,1044.2 767.4,1062.0 796.4,1082.4 825.3,1117.9 854.3,1133.0 883.3,1142.3 912.3,1209.8 941.2,1220.7 970.2,1256.7 999.2,1215.1 1028.1,1239.5"/>
<polyline points="303.9,1249.1 332.8,1295.1 361.8,1238.8 390.8,1230.5 419.7,1206.6 448.7,1191.9 477.7,1156.8 506.7,1152.4 535.6,1110.1 564.6,1103.7 593.6,1101.1 622.5,1085.8 651.5,1085.1 680.5,1062.9 709.5,1086.9 738.4,1079.7 767.4,1104.0 796.4,1144.7 825.3,1118.2 854.3,1173.1 883.3,1162.3 912.3,1186.7 941.2,1261.2 970.2,1252.6 999.2,1255.3 1028.1,1283.0"/>
<polyline points="303.9,1283.1 332.8,1243.4 361.8,1261.3 390.8,1233.0 419.7,1250.0 448.7,1216.2 477.7,1203.3 506.7,1181.5 535.6,1159.7 564.6,1159.3 593.6,1186.2 622.5,1170.2 651.5,1142.6 680.5,1151.5 709.5,1185.1 738.4,1174.4 767.4,1147.2 796.4,1126.1 825.3,1181.2 854.3,1189.6 883.3,1193.3 912.3,1259.6 941.2,1238.7 970.2,1258.0 999.2,1227.7 1028.1,1269.6"/>
<polyline points="303.9,1277.3 332.8,1262.3 361.8,1232.1 390.8,1226.9 419.7,1189.9 448.7,1193.3 477.7,1147.3 506.7,1111.2 535.6,1057.6 564.6,1047.8 593.6,1057.3 622.5,1028.3 651.5,1023.8 680.5,1003.0 709.5,1023.3 738.4,1032.4 767.4,1032.3 796.4,1060.2 825.3,1098.3 854.3,1124.1 883.3,1164.9 912.3,1216.3 941.2,1216.5 970.2,1246.9 999.2,1242.9 1028.1,1257.8"/>
<polyline points="303.9,1290.1 332.8,1239.6 361.8,1223.3 390.8,1223.8 419.7,1166.4 448.7,1143.2 477.7,1180.3 506.7,1130.6 535.6,1115.2 564.6,1097.9 593.6,1081.4 622.5,1094.2 651.5,1085.1 680.5,1089.9 709.5,1095.6 738.4,1085.3 767.4,1120.3 796.4,1133.1 825.3,1121.6 854.3,1152.8 883.3,1166.0 912.3,1227.6 941.2,1235.7 970.2,1244.9 999.2,1247.4 1028.1,1275.9"/>
<polyline points="303.9,1245.4 332.8,1258.8 361.8,1237.6 390.8,1216.3 419.7,1177.7 448.7,1181.4 477.7,1134.7 506.7,1123.8 535.6,1099.3 564.6,1076.9 593.6,1065.4 622.5,1043.3 651.5,1037.5 680.5,1039.6 709.5,1038.9 738.4,1045.8 767.4,1027.2 796.4,1081.4 825.3,1145.1 854.3,1114.4 883.3,1157.5 912.3,1206.7 941.2,1211.8 970.2,1246.2 999.2,1181.2 1028.1,1250.9"/>
<polyline points="303.9,1288.6 332.8,1245.3 361.8,1257.0 390.8,1178.0 419.7,1245.6 448.7,1250.0 477.7,1172.2 506.7,1162.4 535.6,1144.7 564.6,1159.4 593.6,1108.7 622.5,1076.2 651.5,1132.8 680.5,1077.1 709.5,1125.4 738.4,1059.7 767.4,1108.0 796.4,1137.7 825.3,1127.9 854.3,1156.6 883.3,1189.2 912.3,1189.8 941.2,1237.6 970.2,1286.1 999.2,1210.5 1028.1,1270.1"/>
</g>
<g fill="none" stroke="#A2142F" stroke-width="2.4" stroke-linejoin="miter" shape-rendering="crispEdges">
<polyline points="1507.9,1150.2 1536.8,1114.1 1565.8,1126.8 1594.8,1132.8 1623.7,1131.6 1652.7,1149.1 1681.7,1151.0 1710.7,1179.4 1739.6,1197.5 1768.6,1242.6 1797.6,1258.4 1826.5,1239.7 1855.5,1318.2 1884.5,1351.7 1913.5,1338.8 1942.4,1340.4 1971.4,1409.1 2000.4,1401.4 2029.3,1416.9 2058.3,1449.1 2087.3,1390.1 2116.3,1388.9 2145.2,1370.6 2174.2,1366.4 2203.2,1322.6 2232.1,1312.7"/>
<polyline points="1507.9,1183.2 1536.8,1207.3 1565.8,1181.2 1594.8,1139.4 1623.7,1175.1 1652.7,1178.5 1681.7,1201.1 1710.7,1222.8 1739.6,1218.7 1768.6,1220.6 1797.6,1256.1 1826.5,1272.8 1855.5,1290.4 1884.5,1295.7 1913.5,1276.7 1942.4,1321.9 1971.4,1337.5 2000.4,1374.8 2029.3,1350.4 2058.3,1345.0 2087.3,1367.9 2116.3,1337.8 2145.2,1287.7 2174.2,1301.2 2203.2,1295.3 2232.1,1299.9"/>
<polyline points="1507.9,1158.9 1536.8,1213.6 1565.8,1153.9 1594.8,1154.5 1623.7,1154.6 1652.7,1148.3 1681.7,1166.5 1710.7,1243.2 1739.6,1236.7 1768.6,1218.1 1797.6,1266.6 1826.5,1269.9 1855.5,1276.2 1884.5,1337.3 1913.5,1359.7 1942.4,1321.9 1971.4,1315.2 2000.4,1345.6 2029.3,1362.5 2058.3,1373.0 2087.3,1385.9 2116.3,1348.2 2145.2,1341.2 2174.2,1352.4 2203.2,1301.0 2232.1,1293.7"/>
<polyline points="1507.9,1153.3 1536.8,1173.8 1565.8,1151.3 1594.8,1151.0 1623.7,1155.9 1652.7,1150.6 1681.7,1188.2 1710.7,1176.4 1739.6,1194.3 1768.6,1190.8 1797.6,1268.6 1826.5,1253.9 1855.5,1298.8 1884.5,1322.5 1913.5,1366.8 1942.4,1366.1 1971.4,1339.1 2000.4,1379.0 2029.3,1389.7 2058.3,1392.4 2087.3,1371.0 2116.3,1374.0 2145.2,1402.2 2174.2,1355.4 2203.2,1367.1 2232.1,1354.5"/>
<polyline points="1507.9,1132.1 1536.8,1063.5 1565.8,1090.1 1594.8,1106.9 1623.7,1109.5 1652.7,1081.4 1681.7,1116.6 1710.7,1149.9 1739.6,1162.4 1768.6,1205.4 1797.6,1220.8 1826.5,1263.9 1855.5,1306.8 1884.5,1372.9 1913.5,1363.1 1942.4,1416.0 1971.4,1397.0 2000.4,1450.4 2029.3,1446.9 2058.3,1453.8 2087.3,1455.5 2116.3,1388.6 2145.2,1373.9 2174.2,1382.4 2203.2,1332.6 2232.1,1306.3"/>
<polyline points="1507.9,1165.3 1536.8,1092.2 1565.8,1095.1 1594.8,1080.9 1623.7,1114.8 1652.7,1110.5 1681.7,1126.0 1710.7,1135.2 1739.6,1153.4 1768.6,1206.8 1797.6,1205.6 1826.5,1287.1 1855.5,1323.4 1884.5,1390.4 1913.5,1334.7 1942.4,1379.0 1971.4,1397.5 2000.4,1417.2 2029.3,1438.4 2058.3,1444.3 2087.3,1434.1 2116.3,1414.0 2145.2,1398.9 2174.2,1344.6 2203.2,1335.7 2232.1,1313.0"/>
<polyline points="1507.9,1145.5 1536.8,1130.3 1565.8,1080.4 1594.8,1092.0 1623.7,1109.8 1652.7,1127.3 1681.7,1159.8 1710.7,1161.7 1739.6,1151.0 1768.6,1218.6 1797.6,1246.4 1826.5,1278.7 1855.5,1303.2 1884.5,1375.0 1913.5,1364.9 1942.4,1402.9 1971.4,1381.5 2000.4,1426.6 2029.3,1410.9 2058.3,1392.2 2087.3,1420.5 2116.3,1408.5 2145.2,1382.8 2174.2,1363.4 2203.2,1363.8 2232.1,1300.3"/>
<polyline points="1507.9,1092.4 1536.8,1055.9 1565.8,1056.8 1594.8,1054.9 1623.7,1051.9 1652.7,1090.9 1681.7,1108.7 1710.7,1120.5 1739.6,1156.2 1768.6,1180.7 1797.6,1198.9 1826.5,1272.2 1855.5,1312.3 1884.5,1325.5 1913.5,1398.5 1942.4,1446.6 1971.4,1430.1 2000.4,1460.6 2029.3,1455.8 2058.3,1480.3 2087.3,1483.0 2116.3,1433.3 2145.2,1443.3 2174.2,1391.6 2203.2,1380.0 2232.1,1318.9"/>
<polyline points="1507.9,1108.6 1536.8,1080.3 1565.8,1073.7 1594.8,1050.8 1623.7,1077.6 1652.7,1076.5 1681.7,1066.9 1710.7,1132.7 1739.6,1144.3 1768.6,1230.0 1797.6,1226.9 1826.5,1319.1 1855.5,1365.5 1884.5,1336.5 1913.5,1370.3 1942.4,1420.2 1971.4,1420.7 2000.4,1450.9 2029.3,1478.3 2058.3,1461.8 2087.3,1409.6 2116.3,1422.4 2145.2,1432.4 2174.2,1404.8 2203.2,1363.9 2232.1,1320.4"/>
<polyline points="1507.9,1169.1 1536.8,1136.7 1565.8,1148.7 1594.8,1104.4 1623.7,1111.7 1652.7,1119.5 1681.7,1166.7 1710.7,1164.3 1739.6,1196.8 1768.6,1225.5 1797.6,1252.2 1826.5,1300.9 1855.5,1339.3 1884.5,1315.3 1913.5,1350.2 1942.4,1362.6 1971.4,1349.0 2000.4,1424.9 2029.3,1415.3 2058.3,1396.1 2087.3,1391.9 2116.3,1391.0 2145.2,1337.1 2174.2,1345.2 2203.2,1356.3 2232.1,1318.2"/>
<polyline points="1507.9,1104.6 1536.8,1068.4 1565.8,1113.4 1594.8,1030.5 1623.7,1070.2 1652.7,1065.3 1681.7,1116.0 1710.7,1148.0 1739.6,1183.2 1768.6,1170.2 1797.6,1239.9 1826.5,1244.1 1855.5,1337.6 1884.5,1350.7 1913.5,1410.1 1942.4,1420.9 1971.4,1407.4 2000.4,1460.8 2029.3,1436.4 2058.3,1462.6 2087.3,1462.4 2116.3,1429.2 2145.2,1422.1 2174.2,1383.0 2203.2,1372.7 2232.1,1330.2"/>
<polyline points="1507.9,1161.7 1536.8,1170.2 1565.8,1157.2 1594.8,1133.4 1623.7,1122.5 1652.7,1182.7 1681.7,1164.1 1710.7,1197.9 1739.6,1212.3 1768.6,1206.4 1797.6,1255.6 1826.5,1242.0 1855.5,1316.2 1884.5,1318.2 1913.5,1343.0 1942.4,1375.7 1971.4,1349.4 2000.4,1385.4 2029.3,1384.8 2058.3,1392.0 2087.3,1407.4 2116.3,1379.1 2145.2,1355.4 2174.2,1322.8 2203.2,1343.4 2232.1,1301.1"/>
<polyline points="1507.9,1205.4 1536.8,1165.3 1565.8,1176.1 1594.8,1183.0 1623.7,1163.8 1652.7,1157.0 1681.7,1233.7 1710.7,1235.1 1739.6,1220.3 1768.6,1251.9 1797.6,1242.9 1826.5,1287.5 1855.5,1303.6 1884.5,1305.6 1913.5,1330.5 1942.4,1324.6 1971.4,1355.4 2000.4,1375.9 2029.3,1399.3 2058.3,1333.7 2087.3,1373.9 2116.3,1347.1 2145.2,1322.4 2174.2,1318.8 2203.2,1311.9 2232.1,1271.8"/>
<polyline points="1507.9,1202.7 1536.8,1251.3 1565.8,1183.6 1594.8,1176.9 1623.7,1160.2 1652.7,1174.6 1681.7,1231.9 1710.7,1252.9 1739.6,1219.3 1768.6,1209.1 1797.6,1287.7 1826.5,1258.9 1855.5,1308.6 1884.5,1295.3 1913.5,1329.1 1942.4,1330.3 1971.4,1355.6 2000.4,1357.6 2029.3,1337.2 2058.3,1341.1 2087.3,1366.5 2116.3,1357.9 2145.2,1363.6 2174.2,1322.5 2203.2,1308.4 2232.1,1293.1"/>
<polyline points="1507.9,1111.9 1536.8,1095.2 1565.8,1070.6 1594.8,1052.1 1623.7,1050.0 1652.7,1047.6 1681.7,1103.7 1710.7,1150.2 1739.6,1144.9 1768.6,1209.1 1797.6,1250.8 1826.5,1277.9 1855.5,1352.8 1884.5,1344.8 1913.5,1387.0 1942.4,1414.9 1971.4,1429.8 2000.4,1459.4 2029.3,1487.9 2058.3,1487.9 2087.3,1461.5 2116.3,1424.6 2145.2,1420.2 2174.2,1410.1 2203.2,1363.1 2232.1,1341.2"/>
<polyline points="1507.9,1138.5 1536.8,1110.6 1565.8,1137.3 1594.8,1087.1 1623.7,1097.7 1652.7,1113.0 1681.7,1135.2 1710.7,1160.1 1739.6,1196.0 1768.6,1212.4 1797.6,1251.6 1826.5,1272.6 1855.5,1345.4 1884.5,1336.4 1913.5,1364.9 1942.4,1397.8 1971.4,1413.5 2000.4,1415.1 2029.3,1469.7 2058.3,1431.8 2087.3,1421.1 2116.3,1403.7 2145.2,1388.4 2174.2,1381.0 2203.2,1352.8 2232.1,1300.3"/>
<polyline points="1507.9,1127.9 1536.8,1106.8 1565.8,1134.0 1594.8,1085.1 1623.7,1085.9 1652.7,1097.2 1681.7,1127.9 1710.7,1189.3 1739.6,1145.0 1768.6,1212.4 1797.6,1280.6 1826.5,1266.5 1855.5,1351.2 1884.5,1370.5 1913.5,1374.9 1942.4,1362.5 1971.4,1408.0 2000.4,1414.1 2029.3,1396.1 2058.3,1395.4 2087.3,1421.1 2116.3,1406.6 2145.2,1415.1 2174.2,1377.9 2203.2,1332.3 2232.1,1302.3"/>
<polyline points="1507.9,1140.5 1536.8,1102.9 1565.8,1132.4 1594.8,1115.1 1623.7,1105.1 1652.7,1116.6 1681.7,1122.0 1710.7,1159.0 1739.6,1192.1 1768.6,1207.8 1797.6,1260.2 1826.5,1309.2 1855.5,1293.7 1884.5,1332.3 1913.5,1348.5 1942.4,1414.1 1971.4,1399.7 2000.4,1417.8 2029.3,1431.9 2058.3,1473.2 2087.3,1414.1 2116.3,1379.9 2145.2,1372.7 2174.2,1369.2 2203.2,1334.9 2232.1,1294.5"/>
<polyline points="1507.9,1162.5 1536.8,1092.5 1565.8,1076.7 1594.8,1057.5 1623.7,1059.1 1652.7,1077.5 1681.7,1110.0 1710.7,1144.1 1739.6,1129.7 1768.6,1213.3 1797.6,1238.5 1826.5,1257.1 1855.5,1278.1 1884.5,1353.4 1913.5,1375.6 1942.4,1401.0 1971.4,1396.2 2000.4,1434.1 2029.3,1418.1 2058.3,1482.7 2087.3,1439.4 2116.3,1418.8 2145.2,1390.4 2174.2,1359.3 2203.2,1391.2 2232.1,1329.4"/>
<polyline points="1507.9,1157.2 1536.8,1170.8 1565.8,1166.5 1594.8,1123.5 1623.7,1136.0 1652.7,1148.3 1681.7,1184.7 1710.7,1165.5 1739.6,1204.9 1768.6,1205.0 1797.6,1262.1 1826.5,1290.0 1855.5,1293.1 1884.5,1331.0 1913.5,1308.6 1942.4,1347.0 1971.4,1383.0 2000.4,1371.1 2029.3,1393.4 2058.3,1368.6 2087.3,1394.5 2116.3,1378.3 2145.2,1311.5 2174.2,1289.3 2203.2,1287.7 2232.1,1298.0"/>
<polyline points="1507.9,1142.2 1536.8,1096.2 1565.8,1125.1 1594.8,1133.6 1623.7,1120.4 1652.7,1123.7 1681.7,1166.4 1710.7,1207.3 1739.6,1212.1 1768.6,1204.7 1797.6,1257.2 1826.5,1276.0 1855.5,1298.6 1884.5,1320.7 1913.5,1359.3 1942.4,1364.0 1971.4,1403.8 2000.4,1409.7 2029.3,1429.7 2058.3,1387.5 2087.3,1404.5 2116.3,1401.9 2145.2,1383.3 2174.2,1359.9 2203.2,1320.3 2232.1,1331.7"/>
<polyline points="1507.9,1133.4 1536.8,1092.6 1565.8,1036.2 1594.8,1044.5 1623.7,1086.4 1652.7,1080.9 1681.7,1071.0 1710.7,1149.2 1739.6,1164.1 1768.6,1186.3 1797.6,1226.0 1826.5,1262.1 1855.5,1331.8 1884.5,1316.1 1913.5,1342.4 1942.4,1397.6 1971.4,1409.0 2000.4,1469.8 2029.3,1441.0 2058.3,1470.3 2087.3,1433.2 2116.3,1409.6 2145.2,1416.5 2174.2,1408.4 2203.2,1347.9 2232.1,1327.7"/>
<polyline points="1507.9,1177.5 1536.8,1183.8 1565.8,1159.7 1594.8,1184.4 1623.7,1135.5 1652.7,1167.0 1681.7,1159.4 1710.7,1158.8 1739.6,1206.4 1768.6,1261.9 1797.6,1263.3 1826.5,1296.8 1855.5,1301.8 1884.5,1315.4 1913.5,1366.7 1942.4,1333.4 1971.4,1382.0 2000.4,1350.8 2029.3,1378.0 2058.3,1377.4 2087.3,1376.1 2116.3,1368.5 2145.2,1349.1 2174.2,1362.7 2203.2,1316.5 2232.1,1281.2"/>
<polyline points="1507.9,1138.0 1536.8,1136.8 1565.8,1140.5 1594.8,1155.3 1623.7,1126.8 1652.7,1167.6 1681.7,1182.8 1710.7,1203.0 1739.6,1203.2 1768.6,1234.5 1797.6,1250.7 1826.5,1294.5 1855.5,1300.9 1884.5,1291.0 1913.5,1323.2 1942.4,1351.1 1971.4,1329.5 2000.4,1348.0 2029.3,1399.2 2058.3,1380.7 2087.3,1365.7 2116.3,1358.4 2145.2,1334.3 2174.2,1298.5 2203.2,1329.8 2232.1,1296.0"/>
<polyline points="1507.9,1225.8 1536.8,1193.8 1565.8,1196.7 1594.8,1227.0 1623.7,1209.9 1652.7,1210.9 1681.7,1227.7 1710.7,1212.4 1739.6,1241.9 1768.6,1231.5 1797.6,1260.3 1826.5,1281.4 1855.5,1273.0 1884.5,1312.3 1913.5,1327.4 1942.4,1303.6 1971.4,1284.3 2000.4,1313.2 2029.3,1325.8 2058.3,1307.5 2087.3,1312.6 2116.3,1323.4 2145.2,1313.5 2174.2,1306.8 2203.2,1309.9 2232.1,1302.4"/>
<polyline points="1507.9,1158.2 1536.8,1174.3 1565.8,1175.6 1594.8,1131.4 1623.7,1149.3 1652.7,1154.7 1681.7,1174.0 1710.7,1176.2 1739.6,1202.3 1768.6,1203.9 1797.6,1239.0 1826.5,1263.3 1855.5,1288.9 1884.5,1347.4 1913.5,1330.0 1942.4,1355.2 1971.4,1344.8 2000.4,1399.3 2029.3,1358.1 2058.3,1379.1 2087.3,1400.3 2116.3,1396.5 2145.2,1351.2 2174.2,1337.0 2203.2,1332.2 2232.1,1296.8"/>
<polyline points="1507.9,1141.5 1536.8,1095.7 1565.8,1116.5 1594.8,1095.3 1623.7,1086.8 1652.7,1065.4 1681.7,1150.2 1710.7,1163.5 1739.6,1195.5 1768.6,1197.9 1797.6,1260.6 1826.5,1284.9 1855.5,1309.1 1884.5,1364.2 1913.5,1382.3 1942.4,1401.4 1971.4,1429.3 2000.4,1443.4 2029.3,1439.3 2058.3,1434.2 2087.3,1425.0 2116.3,1430.3 2145.2,1401.7 2174.2,1353.4 2203.2,1331.2 2232.1,1311.0"/>
<polyline points="1507.9,1188.3 1536.8,1160.2 1565.8,1165.0 1594.8,1169.3 1623.7,1171.7 1652.7,1144.4 1681.7,1184.4 1710.7,1174.1 1739.6,1214.5 1768.6,1211.6 1797.6,1259.4 1826.5,1273.6 1855.5,1251.9 1884.5,1304.7 1913.5,1328.0 1942.4,1340.5 1971.4,1324.3 2000.4,1327.3 2029.3,1382.0 2058.3,1400.8 2087.3,1377.2 2116.3,1356.0 2145.2,1324.7 2174.2,1297.7 2203.2,1309.5 2232.1,1283.9"/>
<polyline points="1507.9,1155.8 1536.8,1101.5 1565.8,1074.9 1594.8,1090.5 1623.7,1110.1 1652.7,1121.2 1681.7,1104.5 1710.7,1181.4 1739.6,1183.2 1768.6,1205.4 1797.6,1226.0 1826.5,1283.1 1855.5,1299.1 1884.5,1340.1 1913.5,1356.3 1942.4,1384.6 1971.4,1413.3 2000.4,1411.7 2029.3,1402.7 2058.3,1446.6 2087.3,1415.8 2116.3,1387.5 2145.2,1404.3 2174.2,1358.1 2203.2,1363.1 2232.1,1289.9"/>
<polyline points="1507.9,1120.7 1536.8,1099.9 1565.8,1138.8 1594.8,1118.3 1623.7,1131.7 1652.7,1144.1 1681.7,1127.9 1710.7,1210.9 1739.6,1166.5 1768.6,1220.7 1797.6,1215.1 1826.5,1268.4 1855.5,1314.7 1884.5,1321.2 1913.5,1318.5 1942.4,1362.6 1971.4,1358.0 2000.4,1398.4 2029.3,1438.4 2058.3,1379.7 2087.3,1383.9 2116.3,1378.0 2145.2,1360.0 2174.2,1324.1 2203.2,1334.8 2232.1,1313.3"/>
</g>
<g fill="none" stroke="#0072BD" stroke-width="2.4" stroke-linejoin="miter" shape-rendering="crispEdges">
<polyline points="1507.9,1274.7 1536.8,1313.4 1565.8,1329.1 1594.8,1309.1 1623.7,1319.6 1652.7,1287.7 1681.7,1300.2 1710.7,1241.6 1739.6,1245.2 1768.6,1175.8 1797.6,1159.8 1826.5,1186.7 1855.5,1238.6 1884.5,1199.7 1913.5,1229.3 1942.4,1264.1 1971.4,1307.2 2000.4,1301.0 2029.3,1325.8 2058.3,1329.1 2087.3,1320.7 2116.3,1351.6 2145.2,1275.6 2174.2,1286.8 2203.2,1208.4 2232.1,1205.5"/>
<polyline points="1507.9,1330.2 1536.8,1340.8 1565.8,1393.2 1594.8,1396.7 1623.7,1400.2 1652.7,1344.0 1681.7,1279.4 1710.7,1233.6 1739.6,1216.8 1768.6,1154.0 1797.6,1154.6 1826.5,1142.9 1855.5,1151.9 1884.5,1173.4 1913.5,1238.9 1942.4,1286.2 1971.4,1327.7 2000.4,1353.9 2029.3,1394.5 2058.3,1349.2 2087.3,1372.2 2116.3,1304.6 2145.2,1302.5 2174.2,1234.8 2203.2,1192.7 2232.1,1175.8"/>
<polyline points="1507.9,1233.1 1536.8,1333.7 1565.8,1338.8 1594.8,1347.0 1623.7,1372.3 1652.7,1344.8 1681.7,1277.0 1710.7,1256.3 1739.6,1217.5 1768.6,1203.1 1797.6,1201.6 1826.5,1151.4 1855.5,1184.5 1884.5,1189.3 1913.5,1246.6 1942.4,1292.0 1971.4,1324.4 2000.4,1338.8 2029.3,1396.0 2058.3,1402.3 2087.3,1376.6 2116.3,1368.5 2145.2,1303.3 2174.2,1217.2 2203.2,1239.1 2232.1,1162.5"/>
<polyline points="1507.9,1324.9 1536.8,1314.7 1565.8,1353.3 1594.8,1340.2 1623.7,1323.6 1652.7,1297.8 1681.7,1271.9 1710.7,1257.8 1739.6,1259.4 1768.6,1208.1 1797.6,1195.9 1826.5,1155.3 1855.5,1183.2 1884.5,1180.4 1913.5,1271.0 1942.4,1282.5 1971.4,1292.0 2000.4,1326.6 2029.3,1357.9 2058.3,1338.0 2087.3,1363.3 2116.3,1284.8 2145.2,1261.2 2174.2,1227.4 2203.2,1261.1 2232.1,1214.8"/>
<polyline points="1507.9,1330.4 1536.8,1345.9 1565.8,1410.9 1594.8,1418.8 1623.7,1371.1 1652.7,1342.2 1681.7,1314.2 1710.7,1285.4 1739.6,1238.4 1768.6,1177.9 1797.6,1177.5 1826.5,1114.1 1855.5,1154.4 1884.5,1170.6 1913.5,1182.1 1942.4,1264.6 1971.4,1355.1 2000.4,1358.6 2029.3,1376.9 2058.3,1416.6 2087.3,1403.1 2116.3,1341.2 2145.2,1318.8 2174.2,1214.1 2203.2,1250.1 2232.1,1169.6"/>
<polyline points="1507.9,1333.6 1536.8,1381.7 1565.8,1405.0 1594.8,1411.1 1623.7,1408.0 1652.7,1344.8 1681.7,1347.0 1710.7,1252.3 1739.6,1209.2 1768.6,1138.4 1797.6,1116.2 1826.5,1128.2 1855.5,1144.9 1884.5,1156.5 1913.5,1217.0 1942.4,1296.4 1971.4,1305.4 2000.4,1335.0 2029.3,1450.7 2058.3,1407.9 2087.3,1349.9 2116.3,1325.9 2145.2,1292.2 2174.2,1240.3 2203.2,1189.4 2232.1,1141.3"/>
<polyline points="1507.9,1316.2 1536.8,1319.3 1565.8,1369.5 1594.8,1367.5 1623.7,1375.3 1652.7,1335.1 1681.7,1312.1 1710.7,1264.2 1739.6,1199.4 1768.6,1194.1 1797.6,1162.5 1826.5,1149.3 1855.5,1170.5 1884.5,1201.6 1913.5,1241.8 1942.4,1266.5 1971.4,1335.7 2000.4,1301.3 2029.3,1359.0 2058.3,1369.5 2087.3,1361.1 2116.3,1323.3 2145.2,1285.4 2174.2,1271.2 2203.2,1186.8 2232.1,1198.0"/>
<polyline points="1507.9,1345.8 1536.8,1339.1 1565.8,1386.0 1594.8,1344.1 1623.7,1317.5 1652.7,1317.1 1681.7,1315.9 1710.7,1282.2 1739.6,1193.6 1768.6,1211.2 1797.6,1186.7 1826.5,1149.3 1855.5,1143.1 1884.5,1185.5 1913.5,1237.7 1942.4,1271.7 1971.4,1298.6 2000.4,1337.9 2029.3,1367.0 2058.3,1335.3 2087.3,1358.9 2116.3,1293.5 2145.2,1284.4 2174.2,1209.8 2203.2,1251.0 2232.1,1196.6"/>
<polyline points="1507.9,1337.3 1536.8,1378.1 1565.8,1400.5 1594.8,1449.1 1623.7,1437.8 1652.7,1410.8 1681.7,1330.2 1710.7,1239.0 1739.6,1190.7 1768.6,1157.1 1797.6,1115.4 1826.5,1105.4 1855.5,1106.2 1884.5,1175.5 1913.5,1227.7 1942.4,1314.0 1971.4,1366.9 2000.4,1366.1 2029.3,1483.9 2058.3,1436.9 2087.3,1401.8 2116.3,1368.8 2145.2,1310.1 2174.2,1232.1 2203.2,1171.2 2232.1,1128.3"/>
<polyline points="1507.9,1358.2 1536.8,1362.5 1565.8,1404.0 1594.8,1404.1 1623.7,1375.8 1652.7,1340.9 1681.7,1274.2 1710.7,1269.0 1739.6,1190.2 1768.6,1133.8 1797.6,1119.3 1826.5,1111.6 1855.5,1153.3 1884.5,1186.4 1913.5,1212.1 1942.4,1303.8 1971.4,1327.8 2000.4,1380.2 2029.3,1397.8 2058.3,1428.5 2087.3,1391.6 2116.3,1330.8 2145.2,1279.5 2174.2,1222.3 2203.2,1194.5 2232.1,1159.3"/>
<polyline points="1507.9,1368.8 1536.8,1407.7 1565.8,1451.2 1594.8,1469.9 1623.7,1415.9 1652.7,1402.3 1681.7,1349.4 1710.7,1270.2 1739.6,1199.6 1768.6,1119.4 1797.6,1054.0 1826.5,1075.9 1855.5,1114.9 1884.5,1129.0 1913.5,1176.9 1942.4,1297.1 1971.4,1375.3 2000.4,1438.0 2029.3,1468.5 2058.3,1456.4 2087.3,1417.3 2116.3,1355.0 2145.2,1285.5 2174.2,1206.3 2203.2,1137.6 2232.1,1125.6"/>
<polyline points="1507.9,1328.2 1536.8,1366.2 1565.8,1409.9 1594.8,1391.6 1623.7,1405.5 1652.7,1381.2 1681.7,1265.9 1710.7,1238.1 1739.6,1194.5 1768.6,1121.2 1797.6,1106.0 1826.5,1114.2 1855.5,1175.5 1884.5,1186.0 1913.5,1234.5 1942.4,1300.1 1971.4,1335.9 2000.4,1358.6 2029.3,1420.6 2058.3,1434.1 2087.3,1354.1 2116.3,1357.2 2145.2,1314.1 2174.2,1230.5 2203.2,1173.2 2232.1,1155.1"/>
<polyline points="1507.9,1335.3 1536.8,1429.1 1565.8,1465.2 1594.8,1486.3 1623.7,1444.4 1652.7,1418.5 1681.7,1319.9 1710.7,1248.2 1739.6,1158.6 1768.6,1100.6 1797.6,1049.4 1826.5,1077.2 1855.5,1079.9 1884.5,1125.4 1913.5,1185.2 1942.4,1271.6 1971.4,1360.0 2000.4,1446.6 2029.3,1492.8 2058.3,1463.5 2087.3,1436.3 2116.3,1352.9 2145.2,1296.9 2174.2,1210.1 2203.2,1118.9 2232.1,1090.5"/>
<polyline points="1507.9,1378.8 1536.8,1433.3 1565.8,1463.4 1594.8,1431.1 1623.7,1469.8 1652.7,1367.3 1681.7,1312.3 1710.7,1212.4 1739.6,1167.6 1768.6,1094.0 1797.6,1088.5 1826.5,1084.6 1855.5,1086.0 1884.5,1157.7 1913.5,1213.4 1942.4,1264.0 1971.4,1388.5 2000.4,1417.8 2029.3,1486.2 2058.3,1456.2 2087.3,1415.9 2116.3,1381.2 2145.2,1290.1 2174.2,1268.0 2203.2,1134.1 2232.1,1115.6"/>
<polyline points="1507.9,1304.9 1536.8,1352.8 1565.8,1429.6 1594.8,1404.5 1623.7,1372.5 1652.7,1324.8 1681.7,1290.4 1710.7,1248.3 1739.6,1242.7 1768.6,1130.6 1797.6,1110.7 1826.5,1133.7 1855.5,1156.7 1884.5,1211.5 1913.5,1211.9 1942.4,1236.4 1971.4,1316.8 2000.4,1334.0 2029.3,1376.4 2058.3,1407.4 2087.3,1350.8 2116.3,1362.1 2145.2,1294.6 2174.2,1234.0 2203.2,1176.0 2232.1,1150.7"/>
<polyline points="1507.9,1313.2 1536.8,1379.3 1565.8,1415.4 1594.8,1396.8 1623.7,1400.7 1652.7,1380.9 1681.7,1328.0 1710.7,1268.2 1739.6,1248.5 1768.6,1201.3 1797.6,1169.3 1826.5,1125.1 1855.5,1138.5 1884.5,1143.3 1913.5,1252.8 1942.4,1294.5 1971.4,1317.5 2000.4,1378.1 2029.3,1402.5 2058.3,1355.7 2087.3,1384.7 2116.3,1366.6 2145.2,1313.5 2174.2,1230.9 2203.2,1182.3 2232.1,1178.3"/>
<polyline points="1507.9,1357.4 1536.8,1379.9 1565.8,1412.5 1594.8,1459.8 1623.7,1407.6 1652.7,1365.2 1681.7,1345.8 1710.7,1258.8 1739.6,1183.8 1768.6,1138.3 1797.6,1144.2 1826.5,1106.3 1855.5,1095.7 1884.5,1130.2 1913.5,1256.5 1942.4,1243.6 1971.4,1368.7 2000.4,1383.9 2029.3,1407.1 2058.3,1412.9 2087.3,1408.8 2116.3,1393.0 2145.2,1288.9 2174.2,1249.6 2203.2,1228.9 2232.1,1069.2"/>
<polyline points="1507.9,1328.6 1536.8,1366.5 1565.8,1450.2 1594.8,1426.6 1623.7,1402.9 1652.7,1356.4 1681.7,1320.9 1710.7,1281.7 1739.6,1186.4 1768.6,1166.4 1797.6,1119.9 1826.5,1088.7 1855.5,1118.0 1884.5,1154.1 1913.5,1217.3 1942.4,1257.6 1971.4,1335.3 2000.4,1419.1 2029.3,1428.1 2058.3,1471.3 2087.3,1439.2 2116.3,1351.7 2145.2,1320.7 2174.2,1231.9 2203.2,1184.5 2232.1,1106.7"/>
<polyline points="1507.9,1279.6 1536.8,1361.6 1565.8,1370.9 1594.8,1393.0 1623.7,1387.6 1652.7,1362.7 1681.7,1249.7 1710.7,1206.5 1739.6,1202.8 1768.6,1208.6 1797.6,1143.6 1826.5,1148.6 1855.5,1150.7 1884.5,1187.6 1913.5,1229.9 1942.4,1271.0 1971.4,1333.7 2000.4,1362.9 2029.3,1409.3 2058.3,1379.3 2087.3,1386.8 2116.3,1319.9 2145.2,1304.1 2174.2,1243.2 2203.2,1193.5 2232.1,1198.1"/>
<polyline points="1507.9,1359.6 1536.8,1420.7 1565.8,1419.8 1594.8,1414.7 1623.7,1416.5 1652.7,1395.2 1681.7,1282.0 1710.7,1291.0 1739.6,1163.9 1768.6,1125.8 1797.6,1144.4 1826.5,1069.2 1855.5,1064.3 1884.5,1173.5 1913.5,1211.5 1942.4,1293.0 1971.4,1353.7 2000.4,1445.3 2029.3,1468.8 2058.3,1438.8 2087.3,1420.8 2116.3,1339.7 2145.2,1298.6 2174.2,1195.0 2203.2,1175.0 2232.1,1107.3"/>
<polyline points="1507.9,1365.4 1536.8,1396.4 1565.8,1377.6 1594.8,1431.9 1623.7,1382.4 1652.7,1359.6 1681.7,1326.6 1710.7,1263.1 1739.6,1209.3 1768.6,1166.5 1797.6,1114.1 1826.5,1112.1 1855.5,1150.7 1884.5,1191.3 1913.5,1221.6 1942.4,1287.2 1971.4,1319.6 2000.4,1316.5 2029.3,1387.6 2058.3,1405.8 2087.3,1388.5 2116.3,1365.3 2145.2,1308.3 2174.2,1265.8 2203.2,1192.1 2232.1,1152.3"/>
<polyline points="1507.9,1322.2 1536.8,1402.0 1565.8,1427.9 1594.8,1479.7 1623.7,1387.5 1652.7,1369.1 1681.7,1268.1 1710.7,1232.9 1739.6,1167.3 1768.6,1124.7 1797.6,1089.0 1826.5,1082.4 1855.5,1136.7 1884.5,1136.1 1913.5,1175.1 1942.4,1282.1 1971.4,1338.2 2000.4,1380.2 2029.3,1457.2 2058.3,1429.4 2087.3,1438.5 2116.3,1383.3 2145.2,1308.6 2174.2,1232.1 2203.2,1163.6 2232.1,1111.2"/>
<polyline points="1507.9,1363.7 1536.8,1342.4 1565.8,1395.3 1594.8,1411.5 1623.7,1422.6 1652.7,1373.7 1681.7,1298.9 1710.7,1241.7 1739.6,1228.9 1768.6,1108.8 1797.6,1059.2 1826.5,1135.3 1855.5,1098.0 1884.5,1158.8 1913.5,1225.8 1942.4,1263.5 1971.4,1366.4 2000.4,1393.1 2029.3,1392.3 2058.3,1430.0 2087.3,1414.3 2116.3,1353.4 2145.2,1303.9 2174.2,1209.0 2203.2,1192.5 2232.1,1112.6"/>
<polyline points="1507.9,1326.9 1536.8,1313.5 1565.8,1357.0 1594.8,1404.8 1623.7,1343.2 1652.7,1346.8 1681.7,1295.2 1710.7,1224.6 1739.6,1258.5 1768.6,1246.4 1797.6,1151.4 1826.5,1159.1 1855.5,1154.4 1884.5,1198.6 1913.5,1252.8 1942.4,1279.7 1971.4,1289.3 2000.4,1301.4 2029.3,1351.0 2058.3,1340.9 2087.3,1348.6 2116.3,1313.3 2145.2,1264.5 2174.2,1252.9 2203.2,1255.7 2232.1,1199.8"/>
<polyline points="1507.9,1315.1 1536.8,1366.7 1565.8,1413.6 1594.8,1442.6 1623.7,1407.0 1652.7,1406.1 1681.7,1334.8 1710.7,1234.0 1739.6,1201.3 1768.6,1125.8 1797.6,1094.2 1826.5,1102.5 1855.5,1125.6 1884.5,1126.6 1913.5,1206.9 1942.4,1292.3 1971.4,1330.8 2000.4,1383.4 2029.3,1441.9 2058.3,1418.0 2087.3,1402.3 2116.3,1405.2 2145.2,1298.5 2174.2,1241.4 2203.2,1184.7 2232.1,1166.2"/>
<polyline points="1507.9,1347.9 1536.8,1398.5 1565.8,1426.9 1594.8,1485.3 1623.7,1416.6 1652.7,1412.0 1681.7,1322.1 1710.7,1221.3 1739.6,1196.9 1768.6,1126.9 1797.6,1077.8 1826.5,1101.7 1855.5,1111.0 1884.5,1151.5 1913.5,1189.4 1942.4,1320.7 1971.4,1367.8 2000.4,1432.3 2029.3,1474.1 2058.3,1464.0 2087.3,1443.3 2116.3,1361.0 2145.2,1314.0 2174.2,1227.4 2203.2,1155.6 2232.1,1129.9"/>
<polyline points="1507.9,1304.8 1536.8,1295.9 1565.8,1360.9 1594.8,1377.1 1623.7,1357.0 1652.7,1351.5 1681.7,1279.9 1710.7,1237.6 1739.6,1242.3 1768.6,1205.3 1797.6,1144.6 1826.5,1158.2 1855.5,1165.6 1884.5,1248.0 1913.5,1249.0 1942.4,1288.9 1971.4,1279.4 2000.4,1352.8 2029.3,1374.7 2058.3,1370.8 2087.3,1359.1 2116.3,1287.9 2145.2,1285.7 2174.2,1211.1 2203.2,1207.7 2232.1,1150.2"/>
<polyline points="1507.9,1342.1 1536.8,1399.0 1565.8,1466.3 1594.8,1481.8 1623.7,1454.6 1652.7,1402.8 1681.7,1358.8 1710.7,1229.1 1739.6,1186.2 1768.6,1103.5 1797.6,1086.3 1826.5,1086.5 1855.5,1077.2 1884.5,1170.0 1913.5,1232.0 1942.4,1287.2 1971.4,1359.0 2000.4,1434.0 2029.3,1482.5 2058.3,1483.0 2087.3,1442.3 2116.3,1351.6 2145.2,1319.2 2174.2,1204.8 2203.2,1137.2 2232.1,1109.8"/>
<polyline points="1507.9,1299.4 1536.8,1382.6 1565.8,1411.2 1594.8,1409.7 1623.7,1380.0 1652.7,1351.1 1681.7,1311.5 1710.7,1253.5 1739.6,1264.5 1768.6,1164.7 1797.6,1179.5 1826.5,1147.6 1855.5,1163.0 1884.5,1206.9 1913.5,1253.7 1942.4,1297.7 1971.4,1327.3 2000.4,1345.7 2029.3,1370.5 2058.3,1401.1 2087.3,1381.9 2116.3,1349.4 2145.2,1284.4 2174.2,1302.6 2203.2,1172.3 2232.1,1173.1"/>
<polyline points="1507.9,1319.3 1536.8,1325.0 1565.8,1341.7 1594.8,1347.0 1623.7,1327.0 1652.7,1330.5 1681.7,1231.3 1710.7,1231.0 1739.6,1228.6 1768.6,1167.0 1797.6,1173.1 1826.5,1155.7 1855.5,1186.7 1884.5,1205.9 1913.5,1225.1 1942.4,1299.3 1971.4,1303.0 2000.4,1323.7 2029.3,1350.9 2058.3,1399.0 2087.3,1352.2 2116.3,1277.7 2145.2,1298.1 2174.2,1248.9 2203.2,1284.3 2232.1,1172.3"/>
</g>
<g fill="none" stroke="#77AC30" stroke-width="2.4" stroke-linejoin="miter" shape-rendering="crispEdges">
<polyline points="1507.9,1247.7 1536.8,1230.2 1565.8,1275.7 1594.8,1238.1 1623.7,1265.5 1652.7,1244.2 1681.7,1169.6 1710.7,1179.8 1739.6,1118.2 1768.6,1142.2 1797.6,1164.4 1826.5,1114.8 1855.5,1091.6 1884.5,1121.8 1913.5,1178.6 1942.4,1128.4 1971.4,1113.6 2000.4,1167.5 2029.3,1174.9 2058.3,1163.2 2087.3,1188.4 2116.3,1231.0 2145.2,1244.1 2174.2,1255.9 2203.2,1246.9 2232.1,1258.6"/>
<polyline points="1507.9,1240.9 1536.8,1237.7 1565.8,1283.5 1594.8,1208.8 1623.7,1178.2 1652.7,1166.6 1681.7,1141.2 1710.7,1144.4 1739.6,1126.0 1768.6,1070.5 1797.6,1097.5 1826.5,1103.2 1855.5,1046.3 1884.5,1069.7 1913.5,1065.6 1942.4,1092.8 1971.4,1102.8 2000.4,1119.2 2029.3,1125.4 2058.3,1136.4 2087.3,1197.7 2116.3,1170.8 2145.2,1239.8 2174.2,1251.8 2203.2,1233.5 2232.1,1260.0"/>
<polyline points="1507.9,1288.2 1536.8,1213.2 1565.8,1280.7 1594.8,1236.3 1623.7,1235.8 1652.7,1193.7 1681.7,1201.3 1710.7,1169.4 1739.6,1184.3 1768.6,1145.6 1797.6,1199.8 1826.5,1162.3 1855.5,1117.0 1884.5,1158.7 1913.5,1183.2 1942.4,1119.8 1971.4,1155.0 2000.4,1199.4 2029.3,1167.6 2058.3,1221.6 2087.3,1184.6 2116.3,1202.0 2145.2,1260.4 2174.2,1257.6 2203.2,1250.4 2232.1,1261.9"/>
<polyline points="1507.9,1280.2 1536.8,1240.1 1565.8,1296.1 1594.8,1226.4 1623.7,1202.1 1652.7,1173.1 1681.7,1143.4 1710.7,1144.2 1739.6,1087.0 1768.6,1074.6 1797.6,1077.1 1826.5,1072.4 1855.5,1062.2 1884.5,1033.0 1913.5,1059.4 1942.4,1038.6 1971.4,1023.0 2000.4,1049.7 2029.3,1084.4 2058.3,1136.6 2087.3,1172.9 2116.3,1156.5 2145.2,1200.2 2174.2,1215.0 2203.2,1244.9 2232.1,1240.5"/>
<polyline points="1507.9,1247.1 1536.8,1237.2 1565.8,1228.3 1594.8,1208.0 1623.7,1193.2 1652.7,1170.2 1681.7,1140.5 1710.7,1142.3 1739.6,1079.0 1768.6,1088.9 1797.6,1065.5 1826.5,1066.7 1855.5,1061.9 1884.5,1020.6 1913.5,1063.1 1942.4,1087.0 1971.4,1088.9 2000.4,1097.6 2029.3,1085.2 2058.3,1137.3 2087.3,1148.2 2116.3,1207.1 2145.2,1203.8 2174.2,1214.4 2203.2,1211.0 2232.1,1278.2"/>
<polyline points="1507.9,1252.1 1536.8,1249.5 1565.8,1268.4 1594.8,1222.9 1623.7,1208.7 1652.7,1232.6 1681.7,1149.3 1710.7,1131.2 1739.6,1120.8 1768.6,1117.9 1797.6,1064.0 1826.5,1067.6 1855.5,1050.1 1884.5,1038.3 1913.5,1072.3 1942.4,1050.4 1971.4,1086.7 2000.4,1099.8 2029.3,1123.9 2058.3,1144.8 2087.3,1148.7 2116.3,1186.3 2145.2,1215.6 2174.2,1236.4 2203.2,1240.6 2232.1,1284.4"/>
<polyline points="1507.9,1273.4 1536.8,1268.1 1565.8,1274.5 1594.8,1244.8 1623.7,1262.8 1652.7,1186.9 1681.7,1181.2 1710.7,1183.9 1739.6,1181.9 1768.6,1137.9 1797.6,1189.7 1826.5,1170.0 1855.5,1158.6 1884.5,1174.9 1913.5,1168.2 1942.4,1179.0 1971.4,1135.8 2000.4,1212.8 2029.3,1176.7 2058.3,1226.4 2087.3,1179.7 2116.3,1231.7 2145.2,1251.2 2174.2,1230.3 2203.2,1231.9 2232.1,1297.7"/>
<polyline points="1507.9,1271.2 1536.8,1299.3 1565.8,1235.6 1594.8,1221.2 1623.7,1205.6 1652.7,1188.7 1681.7,1158.2 1710.7,1143.3 1739.6,1096.1 1768.6,1050.8 1797.6,1105.2 1826.5,1063.4 1855.5,1060.6 1884.5,1041.9 1913.5,1068.6 1942.4,1056.9 1971.4,1090.9 2000.4,1069.6 2029.3,1113.7 2058.3,1140.7 2087.3,1155.3 2116.3,1188.8 2145.2,1247.1 2174.2,1215.1 2203.2,1240.5 2232.1,1261.9"/>
<polyline points="1507.9,1244.3 1536.8,1224.1 1565.8,1271.0 1594.8,1237.3 1623.7,1165.3 1652.7,1148.5 1681.7,1169.6 1710.7,1157.3 1739.6,1125.9 1768.6,1106.3 1797.6,1115.6 1826.5,1073.4 1855.5,1087.6 1884.5,1086.1 1913.5,1054.2 1942.4,1086.5 1971.4,1086.2 2000.4,1087.0 2029.3,1112.1 2058.3,1151.7 2087.3,1167.1 2116.3,1207.7 2145.2,1180.2 2174.2,1216.9 2203.2,1262.9 2232.1,1258.7"/>
<polyline points="1507.9,1249.9 1536.8,1246.8 1565.8,1205.0 1594.8,1192.5 1623.7,1230.0 1652.7,1198.2 1681.7,1189.4 1710.7,1151.5 1739.6,1132.4 1768.6,1069.0 1797.6,1110.7 1826.5,1137.8 1855.5,1105.8 1884.5,1093.0 1913.5,1136.3 1942.4,1121.2 1971.4,1117.9 2000.4,1122.2 2029.3,1145.4 2058.3,1180.3 2087.3,1167.6 2116.3,1212.5 2145.2,1235.3 2174.2,1255.0 2203.2,1260.3 2232.1,1249.9"/>
<polyline points="1507.9,1289.3 1536.8,1256.7 1565.8,1218.0 1594.8,1217.7 1623.7,1176.6 1652.7,1180.1 1681.7,1120.5 1710.7,1102.4 1739.6,1076.6 1768.6,1084.6 1797.6,1065.6 1826.5,1019.7 1855.5,1003.0 1884.5,1012.0 1913.5,1014.6 1942.4,1026.0 1971.4,1025.1 2000.4,1049.1 2029.3,1087.6 2058.3,1143.8 2087.3,1131.0 2116.3,1139.7 2145.2,1221.6 2174.2,1250.4 2203.2,1236.0 2232.1,1275.0"/>
<polyline points="1507.9,1297.7 1536.8,1240.7 1565.8,1247.5 1594.8,1245.2 1623.7,1180.0 1652.7,1214.0 1681.7,1198.6 1710.7,1173.9 1739.6,1178.1 1768.6,1163.9 1797.6,1152.5 1826.5,1149.4 1855.5,1142.3 1884.5,1108.7 1913.5,1139.6 1942.4,1130.8 1971.4,1137.5 2000.4,1156.9 2029.3,1145.0 2058.3,1189.2 2087.3,1167.8 2116.3,1231.9 2145.2,1244.7 2174.2,1246.9 2203.2,1256.7 2232.1,1252.8"/>
<polyline points="1507.9,1234.8 1536.8,1276.9 1565.8,1238.1 1594.8,1226.9 1623.7,1214.7 1652.7,1199.0 1681.7,1150.8 1710.7,1156.2 1739.6,1101.6 1768.6,1079.6 1797.6,1084.1 1826.5,1074.7 1855.5,1072.6 1884.5,1016.7 1913.5,1072.3 1942.4,1017.0 1971.4,1046.7 2000.4,1091.5 2029.3,1131.5 2058.3,1120.3 2087.3,1132.5 2116.3,1202.6 2145.2,1214.4 2174.2,1204.8 2203.2,1239.3 2232.1,1228.9"/>
<polyline points="1507.9,1274.4 1536.8,1246.2 1565.8,1284.2 1594.8,1173.5 1623.7,1241.8 1652.7,1254.5 1681.7,1179.2 1710.7,1164.7 1739.6,1114.3 1768.6,1137.7 1797.6,1131.7 1826.5,1104.1 1855.5,1080.6 1884.5,1115.6 1913.5,1098.7 1942.4,1109.8 1971.4,1130.1 2000.4,1141.9 2029.3,1152.2 2058.3,1190.4 2087.3,1167.4 2116.3,1230.7 2145.2,1203.3 2174.2,1218.9 2203.2,1251.5 2232.1,1282.9"/>
<polyline points="1507.9,1269.1 1536.8,1245.0 1565.8,1225.0 1594.8,1216.0 1623.7,1180.3 1652.7,1195.5 1681.7,1157.1 1710.7,1164.4 1739.6,1105.2 1768.6,1097.0 1797.6,1096.1 1826.5,1059.6 1855.5,1059.7 1884.5,1125.1 1913.5,1069.3 1942.4,1105.5 1971.4,1061.4 2000.4,1047.8 2029.3,1134.6 2058.3,1146.9 2087.3,1172.6 2116.3,1184.2 2145.2,1202.1 2174.2,1203.8 2203.2,1261.5 2232.1,1235.7"/>
<polyline points="1507.9,1279.5 1536.8,1248.5 1565.8,1212.1 1594.8,1194.1 1623.7,1216.9 1652.7,1184.3 1681.7,1155.4 1710.7,1128.7 1739.6,1079.3 1768.6,1100.1 1797.6,1062.8 1826.5,1045.6 1855.5,1039.4 1884.5,1033.7 1913.5,1026.1 1942.4,1032.4 1971.4,1031.4 2000.4,1063.1 2029.3,1082.4 2058.3,1165.7 2087.3,1136.7 2116.3,1185.1 2145.2,1212.1 2174.2,1247.2 2203.2,1271.2 2232.1,1268.2"/>
<polyline points="1507.9,1276.0 1536.8,1246.0 1565.8,1286.8 1594.8,1189.0 1623.7,1206.5 1652.7,1199.1 1681.7,1179.0 1710.7,1163.6 1739.6,1149.4 1768.6,1125.3 1797.6,1106.5 1826.5,1097.9 1855.5,1113.8 1884.5,1094.7 1913.5,1119.2 1942.4,1095.0 1971.4,1066.9 2000.4,1111.4 2029.3,1144.4 2058.3,1190.8 2087.3,1197.0 2116.3,1228.9 2145.2,1206.1 2174.2,1251.5 2203.2,1247.9 2232.1,1277.7"/>
<polyline points="1507.9,1262.6 1536.8,1228.2 1565.8,1282.6 1594.8,1253.0 1623.7,1278.3 1652.7,1225.1 1681.7,1216.6 1710.7,1214.8 1739.6,1218.9 1768.6,1215.6 1797.6,1214.8 1826.5,1145.1 1855.5,1178.6 1884.5,1203.4 1913.5,1209.9 1942.4,1197.7 1971.4,1198.3 2000.4,1221.5 2029.3,1214.8 2058.3,1185.9 2087.3,1231.5 2116.3,1228.1 2145.2,1249.8 2174.2,1253.8 2203.2,1253.2 2232.1,1248.8"/>
<polyline points="1507.9,1261.3 1536.8,1247.0 1565.8,1226.8 1594.8,1259.6 1623.7,1170.3 1652.7,1132.9 1681.7,1148.4 1710.7,1130.0 1739.6,1143.5 1768.6,1106.1 1797.6,1106.8 1826.5,1089.9 1855.5,1059.5 1884.5,1087.0 1913.5,1076.6 1942.4,1119.5 1971.4,1095.8 2000.4,1107.6 2029.3,1140.7 2058.3,1163.8 2087.3,1141.0 2116.3,1216.3 2145.2,1242.4 2174.2,1250.1 2203.2,1224.6 2232.1,1196.7"/>
<polyline points="1507.9,1257.7 1536.8,1277.2 1565.8,1245.4 1594.8,1181.0 1623.7,1212.6 1652.7,1130.5 1681.7,1125.2 1710.7,1122.9 1739.6,1082.1 1768.6,1050.0 1797.6,1041.1 1826.5,1063.4 1855.5,1024.0 1884.5,1040.0 1913.5,1052.2 1942.4,1031.3 1971.4,1048.3 2000.4,1090.2 2029.3,1129.0 2058.3,1144.0 2087.3,1130.5 2116.3,1133.7 2145.2,1192.1 2174.2,1188.3 2203.2,1252.4 2232.1,1259.1"/>
<polyline points="1507.9,1258.7 1536.8,1294.8 1565.8,1278.0 1594.8,1232.4 1623.7,1234.5 1652.7,1232.6 1681.7,1175.2 1710.7,1170.5 1739.6,1133.9 1768.6,1138.3 1797.6,1148.1 1826.5,1120.3 1855.5,1120.1 1884.5,1138.5 1913.5,1147.6 1942.4,1113.6 1971.4,1120.4 2000.4,1124.3 2029.3,1185.6 2058.3,1185.5 2087.3,1193.7 2116.3,1208.8 2145.2,1243.4 2174.2,1251.6 2203.2,1237.0 2232.1,1257.4"/>
<polyline points="1507.9,1282.9 1536.8,1218.6 1565.8,1214.8 1594.8,1228.2 1623.7,1170.5 1652.7,1182.1 1681.7,1130.5 1710.7,1128.3 1739.6,1108.4 1768.6,1075.8 1797.6,1076.6 1826.5,1047.3 1855.5,1040.4 1884.5,1035.7 1913.5,1051.3 1942.4,1114.0 1971.4,1043.9 2000.4,1113.4 2029.3,1102.7 2058.3,1112.4 2087.3,1150.5 2116.3,1185.5 2145.2,1208.7 2174.2,1228.0 2203.2,1253.0 2232.1,1273.9"/>
<polyline points="1507.9,1279.4 1536.8,1226.3 1565.8,1243.7 1594.8,1201.1 1623.7,1217.6 1652.7,1188.8 1681.7,1169.0 1710.7,1142.9 1739.6,1114.4 1768.6,1108.0 1797.6,1115.8 1826.5,1103.3 1855.5,1057.7 1884.5,1088.1 1913.5,1095.4 1942.4,1060.6 1971.4,1079.5 2000.4,1107.8 2029.3,1142.2 2058.3,1118.4 2087.3,1169.1 2116.3,1186.4 2145.2,1221.7 2174.2,1260.1 2203.2,1267.4 2232.1,1253.2"/>
<polyline points="1507.9,1256.5 1536.8,1265.3 1565.8,1272.4 1594.8,1247.3 1623.7,1209.4 1652.7,1211.5 1681.7,1144.0 1710.7,1121.3 1739.6,1064.3 1768.6,1073.7 1797.6,1092.3 1826.5,1082.4 1855.5,1121.1 1884.5,1069.6 1913.5,1065.5 1942.4,1044.2 1971.4,1062.0 2000.4,1082.4 2029.3,1117.9 2058.3,1133.0 2087.3,1142.3 2116.3,1209.8 2145.2,1220.7 2174.2,1256.7 2203.2,1215.1 2232.1,1239.5"/>
<polyline points="1507.9,1249.1 1536.8,1295.1 1565.8,1238.8 1594.8,1230.5 1623.7,1206.6 1652.7,1191.9 1681.7,1156.8 1710.7,1152.4 1739.6,1110.1 1768.6,1103.7 1797.6,1101.1 1826.5,1085.8 1855.5,1085.1 1884.5,1062.9 1913.5,1086.9 1942.4,1079.7 1971.4,1104.0 2000.4,1144.7 2029.3,1118.2 2058.3,1173.1 2087.3,1162.3 2116.3,1186.7 2145.2,1261.2 2174.2,1252.6 2203.2,1255.3 2232.1,1283.0"/>
<polyline points="1507.9,1283.1 1536.8,1243.4 1565.8,1261.3 1594.8,1233.0 1623.7,1250.0 1652.7,1216.2 1681.7,1203.3 1710.7,1181.5 1739.6,1159.7 1768.6,1159.3 1797.6,1186.2 1826.5,1170.2 1855.5,1142.6 1884.5,1151.5 1913.5,1185.1 1942.4,1174.4 1971.4,1147.2 2000.4,1126.1 2029.3,1181.2 2058.3,1189.6 2087.3,1193.3 2116.3,1259.6 2145.2,1238.7 2174.2,1258.0 2203.2,1227.7 2232.1,1269.6"/>
<polyline points="1507.9,1277.3 1536.8,1262.3 1565.8,1232.1 1594.8,1226.9 1623.7,1189.9 1652.7,1193.3 1681.7,1147.3 1710.7,1111.2 1739.6,1057.6 1768.6,1047.8 1797.6,1057.3 1826.5,1028.3 1855.5,1023.8 1884.5,1003.0 1913.5,1023.3 1942.4,1032.4 1971.4,1032.3 2000.4,1060.2 2029.3,1098.3 2058.3,1124.1 2087.3,1164.9 2116.3,1216.3 2145.2,1216.5 2174.2,1246.9 2203.2,1242.9 2232.1,1257.8"/>
<polyline points="1507.9,1290.1 1536.8,1239.6 1565.8,1223.3 1594.8,1223.8 1623.7,1166.4 1652.7,1143.2 1681.7,1180.3 1710.7,1130.6 1739.6,1115.2 1768.6,1097.9 1797.6,1081.4 1826.5,1094.2 1855.5,1085.1 1884.5,1089.9 1913.5,1095.6 1942.4,1085.3 1971.4,1120.3 2000.4,1133.1 2029.3,1121.6 2058.3,1152.8 2087.3,1166.0 2116.3,1227.6 2145.2,1235.7 2174.2,1244.9 2203.2,1247.4 2232.1,1275.9"/>
<polyline points="1507.9,1245.4 1536.8,1258.8 1565.8,1237.6 1594.8,1216.3 1623.7,1177.7 1652.7,1181.4 1681.7,1134.7 1710.7,1123.8 1739.6,1099.3 1768.6,1076.9 1797.6,1065.4 1826.5,1043.3 1855.5,1037.5 1884.5,1039.6 1913.5,1038.9 1942.4,1045.8 1971.4,1027.2 2000.4,1081.4 2029.3,1145.1 2058.3,1114.4 2087.3,1157.5 2116.3,1206.7 2145.2,1211.8 2174.2,1246.2 2203.2,1181.2 2232.1,1250.9"/>
<polyline points="1507.9,1288.6 1536.8,1245.3 1565.8,1257.0 1594.8,1178.0 1623.7,1245.6 1652.7,1250.0 1681.7,1172.2 1710.7,1162.4 1739.6,1144.7 1768.6,1159.4 1797.6,1108.7 1826.5,1076.2 1855.5,1132.8 1884.5,1077.1 1913.5,1125.4 1942.4,1059.7 1971.4,1108.0 2000.4,1137.7 2029.3,1127.9 2058.3,1156.6 2087.3,1189.2 2116.3,1189.8 2145.2,1237.6 2174.2,1286.1 2203.2,1210.5 2232.1,1270.1"/>
</g>
<rect x="159" y="96" width="1014" height="611" fill="none" stroke="#262626" stroke-width="2"/>
<path d="M303.9 707v-11M303.9 96v11M448.7 707v-11M448.7 96v11M593.6 707v-11M593.6 96v11M738.4 707v-11M738.4 96v11M883.3 707v-11M883.3 96v11M1028.1 707v-11M1028.1 96v11M159 197.8h11M1173 197.8h-11M159 299.7h11M1173 299.7h-11M159 401.5h11M1173 401.5h-11M159 503.3h11M1173 503.3h-11M159 605.2h11M1173 605.2h-11" stroke="#262626" stroke-width="2" fill="none"/>
<g class="s tk" text-anchor="middle">
<text transform="translate(157.8 756.6) scale(1 1.06)">0</text>
<text transform="translate(302.7 756.6) scale(1 1.06)">1</text>
<text transform="translate(447.5 756.6) scale(1 1.06)">2</text>
<text transform="translate(592.4 756.6) scale(1 1.06)">3</text>
<text transform="translate(737.2 756.6) scale(1 1.06)">4</text>
<text transform="translate(882.1 756.6) scale(1 1.06)">5</text>
<text transform="translate(1026.9 756.6) scale(1 1.06)">6</text>
<text transform="translate(1171.8 756.6) scale(1 1.06)">7</text>
</g><g class="s tk" text-anchor="end">
<text transform="translate(144.0 109.5) scale(1 1.05)">15</text>
<text transform="translate(144.0 211.3) scale(1 1.05)">10</text>
<text transform="translate(144.0 313.2) scale(1 1.05)">5</text>
<text transform="translate(144.0 415.0) scale(1 1.05)">0</text>
<text transform="translate(144.0 516.8) scale(1 1.05)">-5</text>
<text transform="translate(144.0 618.7) scale(1 1.05)">-10</text>
<text transform="translate(144.0 720.5) scale(1 1.05)">-15</text>
</g>
<text class="i" transform="matrix(0.5308 0 0 0.4719 656.88 802.53)">t</text>
<rect x="1363" y="96" width="1014" height="611" fill="none" stroke="#262626" stroke-width="2"/>
<path d="M1507.9 707v-11M1507.9 96v11M1652.7 707v-11M1652.7 96v11M1797.6 707v-11M1797.6 96v11M1942.4 707v-11M1942.4 96v11M2087.3 707v-11M2087.3 96v11M2232.1 707v-11M2232.1 96v11M1363 197.8h11M2377 197.8h-11M1363 299.7h11M2377 299.7h-11M1363 401.5h11M2377 401.5h-11M1363 503.3h11M2377 503.3h-11M1363 605.2h11M2377 605.2h-11" stroke="#262626" stroke-width="2" fill="none"/>
<g class="s tk" text-anchor="middle">
<text transform="translate(1361.8 756.6) scale(1 1.06)">0</text>
<text transform="translate(1506.7 756.6) scale(1 1.06)">1</text>
<text transform="translate(1651.5 756.6) scale(1 1.06)">2</text>
<text transform="translate(1796.4 756.6) scale(1 1.06)">3</text>
<text transform="translate(1941.2 756.6) scale(1 1.06)">4</text>
<text transform="translate(2086.1 756.6) scale(1 1.06)">5</text>
<text transform="translate(2230.9 756.6) scale(1 1.06)">6</text>
<text transform="translate(2375.8 756.6) scale(1 1.06)">7</text>
</g><g class="s tk" text-anchor="end">
<text transform="translate(1348.0 109.5) scale(1 1.05)">15</text>
<text transform="translate(1348.0 211.3) scale(1 1.05)">10</text>
<text transform="translate(1348.0 313.2) scale(1 1.05)">5</text>
<text transform="translate(1348.0 415.0) scale(1 1.05)">0</text>
<text transform="translate(1348.0 516.8) scale(1 1.05)">-5</text>
<text transform="translate(1348.0 618.7) scale(1 1.05)">-10</text>
<text transform="translate(1348.0 720.5) scale(1 1.05)">-15</text>
</g>
<text class="i" transform="matrix(0.5308 0 0 0.4719 1860.88 802.53)">t</text>
<rect x="159" y="959" width="1014" height="611" fill="none" stroke="#262626" stroke-width="2"/>
<path d="M303.9 1570v-11M303.9 959v11M448.7 1570v-11M448.7 959v11M593.6 1570v-11M593.6 959v11M738.4 1570v-11M738.4 959v11M883.3 1570v-11M883.3 959v11M1028.1 1570v-11M1028.1 959v11M159 1060.8h11M1173 1060.8h-11M159 1162.7h11M1173 1162.7h-11M159 1264.5h11M1173 1264.5h-11M159 1366.3h11M1173 1366.3h-11M159 1468.2h11M1173 1468.2h-11" stroke="#262626" stroke-width="2" fill="none"/>
<g class="s tk" text-anchor="middle">
<text transform="translate(157.8 1619.6) scale(1 1.06)">0</text>
<text transform="translate(302.7 1619.6) scale(1 1.06)">1</text>
<text transform="translate(447.5 1619.6) scale(1 1.06)">2</text>
<text transform="translate(592.4 1619.6) scale(1 1.06)">3</text>
<text transform="translate(737.2 1619.6) scale(1 1.06)">4</text>
<text transform="translate(882.1 1619.6) scale(1 1.06)">5</text>
<text transform="translate(1026.9 1619.6) scale(1 1.06)">6</text>
<text transform="translate(1171.8 1619.6) scale(1 1.06)">7</text>
</g><g class="s tk" text-anchor="end">
<text transform="translate(144.0 972.5) scale(1 1.05)">15</text>
<text transform="translate(144.0 1074.3) scale(1 1.05)">10</text>
<text transform="translate(144.0 1176.2) scale(1 1.05)">5</text>
<text transform="translate(144.0 1278.0) scale(1 1.05)">0</text>
<text transform="translate(144.0 1379.8) scale(1 1.05)">-5</text>
<text transform="translate(144.0 1481.7) scale(1 1.05)">-10</text>
<text transform="translate(144.0 1583.5) scale(1 1.05)">-15</text>
</g>
<text class="i" transform="matrix(0.5308 0 0 0.4719 656.88 1665.53)">t</text>
<rect x="1363" y="959" width="1014" height="611" fill="none" stroke="#262626" stroke-width="2"/>
<path d="M1507.9 1570v-11M1507.9 959v11M1652.7 1570v-11M1652.7 959v11M1797.6 1570v-11M1797.6 959v11M1942.4 1570v-11M1942.4 959v11M2087.3 1570v-11M2087.3 959v11M2232.1 1570v-11M2232.1 959v11M1363 1060.8h11M2377 1060.8h-11M1363 1162.7h11M2377 1162.7h-11M1363 1264.5h11M2377 1264.5h-11M1363 1366.3h11M2377 1366.3h-11M1363 1468.2h11M2377 1468.2h-11" stroke="#262626" stroke-width="2" fill="none"/>
<g class="s tk" text-anchor="middle">
<text transform="translate(1361.8 1619.6) scale(1 1.06)">0</text>
<text transform="translate(1506.7 1619.6) scale(1 1.06)">1</text>
<text transform="translate(1651.5 1619.6) scale(1 1.06)">2</text>
<text transform="translate(1796.4 1619.6) scale(1 1.06)">3</text>
<text transform="translate(1941.2 1619.6) scale(1 1.06)">4</text>
<text transform="translate(2086.1 1619.6) scale(1 1.06)">5</text>
<text transform="translate(2230.9 1619.6) scale(1 1.06)">6</text>
<text transform="translate(2375.8 1619.6) scale(1 1.06)">7</text>
</g><g class="s tk" text-anchor="end">
<text transform="translate(1348.0 972.5) scale(1 1.05)">15</text>
<text transform="translate(1348.0 1074.3) scale(1 1.05)">10</text>
<text transform="translate(1348.0 1176.2) scale(1 1.05)">5</text>
<text transform="translate(1348.0 1278.0) scale(1 1.05)">0</text>
<text transform="translate(1348.0 1379.8) scale(1 1.05)">-5</text>
<text transform="translate(1348.0 1481.7) scale(1 1.05)">-10</text>
<text transform="translate(1348.0 1583.5) scale(1 1.05)">-15</text>
</g>
<text class="i" transform="matrix(0.5308 0 0 0.4719 1860.88 1665.53)">t</text>
<g class="ttl">
<text class="i X" transform="matrix(0.6672 0 0 0.5273 414.90 67.27)">X</text>
<text class="i" transform="matrix(0.4325 0 0 0.3379 458.60 47.46)">i</text>
<text class="r d" transform="matrix(0.3429 0 0 0.3500 455.51 80.30)">1</text>
<text class="r" transform="matrix(0.4500 0 0 0.5778 478.20 68.67)">(</text>
<text class="i" transform="matrix(0.6308 0 0 0.5860 495.08 67.81)">t</text>
<text class="r" transform="matrix(0.4538 0 0 0.5778 516.24 68.67)">)</text>
<text class="r" transform="matrix(0.7511 0 0 0.3960 546.74 70.72)">=</text>
<text class="i" transform="matrix(0.5847 0 0 0.4872 603.24 67.91)">u</text>
<text class="i" transform="matrix(0.4480 0 0 0.3500 631.16 75.25)">i</text>
<text class="r w" transform="matrix(0.5514 0 0 0.5394 654.09 67.86)">sin</text>
<text class="r" transform="matrix(0.4500 0 0 0.5778 721.60 68.67)">(</text>
<text class="i" transform="matrix(0.5885 0 0 0.5860 738.65 67.81)">t</text>
<text class="r" transform="matrix(0.4538 0 0 0.5778 759.64 68.67)">)</text>
<text class="l" transform="matrix(0.5694 0 0 0.5516 784.14 71.95)">+</text>
<text class="i" transform="matrix(0.4425 0 0 0.4771 840.77 67.92)">ϵ</text>
<text class="r" transform="matrix(0.5000 0 0 0.5778 860.10 68.67)">(</text>
<text class="i" transform="matrix(0.6346 0 0 0.5860 879.56 67.81)">t</text>
<text class="r" transform="matrix(0.4962 0 0 0.5778 901.81 68.67)">)</text>
<text class="i X" transform="matrix(0.6731 0 0 0.5273 1604.22 67.27)">X</text>
<text class="i" transform="matrix(0.4325 0 0 0.3379 1647.30 47.46)">i</text>
<text class="r d" transform="matrix(0.3854 0 0 0.3448 1643.36 79.96)">2</text>
<text class="r" transform="matrix(0.4692 0 0 0.5778 1666.12 68.67)">(</text>
<text class="i" transform="matrix(0.6577 0 0 0.5860 1683.67 67.81)">t</text>
<text class="r" transform="matrix(0.4654 0 0 0.5778 1704.50 68.67)">)</text>
<text class="r" transform="matrix(0.7787 0 0 0.3960 1734.91 70.72)">=</text>
<text class="i" transform="matrix(0.5847 0 0 0.4872 1792.79 67.91)">u</text>
<text class="i" transform="matrix(0.4480 0 0 0.3500 1820.86 75.25)">i</text>
<text class="r w" transform="matrix(0.5032 0 0 0.4771 1844.09 67.92)">cos</text>
<text class="r" transform="matrix(0.4692 0 0 0.5778 1913.72 68.67)">(</text>
<text class="r" transform="matrix(0.5366 0 0 0.5000 1931.75 67.30)">2</text>
<text class="i" transform="matrix(0.6577 0 0 0.5860 1955.67 67.81)">t</text>
<text class="r" transform="matrix(0.4692 0 0 0.5778 1978.79 68.67)">)</text>
<text class="l" transform="matrix(0.5710 0 0 0.5516 2004.42 71.95)">+</text>
<text class="i" transform="matrix(0.4575 0 0 0.4771 2061.83 67.92)">ϵ</text>
<text class="r" transform="matrix(0.4692 0 0 0.5778 2083.22 68.67)">(</text>
<text class="i" transform="matrix(0.6115 0 0 0.5860 2102.15 67.81)">t</text>
<text class="r" transform="matrix(0.4692 0 0 0.5778 2123.99 68.67)">)</text>
<text class="i X" transform="matrix(0.7045 0 0 0.5273 332.81 930.27)">X</text>
<text class="i" transform="matrix(0.4325 0 0 0.3379 377.35 910.46)">i</text>
<text class="r d" transform="matrix(0.4073 0 0 0.3448 371.36 942.96)">3</text>
<text class="r" transform="matrix(0.4692 0 0 0.5778 395.82 931.67)">(</text>
<text class="i" transform="matrix(0.6231 0 0 0.5860 412.61 930.81)">t</text>
<text class="r" transform="matrix(0.4654 0 0 0.5778 434.50 931.67)">)</text>
<text class="r" transform="matrix(0.7447 0 0 0.3960 464.18 933.72)">=</text>
<text class="i" transform="matrix(0.5847 0 0 0.4872 520.79 930.91)">u</text>
<text class="i" transform="matrix(0.4480 0 0 0.3500 549.06 938.25)">i</text>
<text class="r w" transform="matrix(0.5532 0 0 0.5394 571.69 930.86)">sin</text>
<text class="r d" transform="matrix(0.3902 0 0 0.3313 635.14 908.67)">2</text>
<text class="r" transform="matrix(0.5115 0 0 0.5778 658.95 931.67)">(</text>
<text class="i" transform="matrix(0.4038 0 0 0.4035 683.78 910.00)">t</text>
<text class="r d" transform="matrix(0.3756 0 0 0.3537 682.50 947.75)">2</text>
<text class="r" transform="matrix(0.4846 0 0 0.5778 707.65 931.67)">)</text>
<text class="r w" transform="matrix(0.5226 0 0 0.5178 734.55 930.93)">log</text>
<text class="r" transform="matrix(0.4808 0 0 0.5778 804.78 931.67)">(</text>
<text class="i" transform="matrix(0.6154 0 0 0.5860 820.24 930.81)">t</text>
<text class="r" transform="matrix(0.4846 0 0 0.5778 840.75 931.67)">)</text>
<text class="l" transform="matrix(0.5645 0 0 0.5516 867.19 934.95)">+</text>
<text class="i" transform="matrix(0.4575 0 0 0.4771 923.83 930.92)">ϵ</text>
<text class="r" transform="matrix(0.4692 0 0 0.5778 944.62 931.67)">(</text>
<text class="i" transform="matrix(0.6462 0 0 0.5860 962.22 930.81)">t</text>
<text class="r" transform="matrix(0.4692 0 0 0.5778 984.79 931.67)">)</text>
<text class="i X" transform="matrix(0.6910 0 0 0.5273 1616.47 930.27)">X</text>
<text class="i" transform="matrix(0.4325 0 0 0.3379 1659.90 910.46)">i</text>
<text class="r d" transform="matrix(0.3543 0 0 0.3500 1656.11 943.30)">1</text>
<text class="r" transform="matrix(0.4692 0 0 0.5778 1679.62 931.67)">(</text>
<text class="i" transform="matrix(0.6577 0 0 0.5860 1695.87 930.81)">t</text>
<text class="r" transform="matrix(0.4692 0 0 0.5778 1717.89 931.67)">)</text>
<text class="r" transform="matrix(0.4867 0 0 0.5769 1736.85 931.07)">,</text>
<text class="i X" transform="matrix(0.6925 0 0 0.5273 1768.88 930.27)">X</text>
<text class="i" transform="matrix(0.4325 0 0 0.3379 1812.35 910.46)">i</text>
<text class="r d" transform="matrix(0.3878 0 0 0.3448 1807.95 942.96)">2</text>
<text class="r" transform="matrix(0.4692 0 0 0.5778 1832.02 931.67)">(</text>
<text class="i" transform="matrix(0.6538 0 0 0.5860 1848.38 930.81)">t</text>
<text class="r" transform="matrix(0.4692 0 0 0.5778 1870.29 931.67)">)</text>
<text class="r w" transform="matrix(0.5657 0 0 0.5171 1904.20 930.88)">and</text>
<text class="i X" transform="matrix(0.6731 0 0 0.5273 2007.92 930.27)">X</text>
<text class="i" transform="matrix(0.4325 0 0 0.3379 2051.00 910.46)">i</text>
<text class="r d" transform="matrix(0.3878 0 0 0.3448 2046.56 942.96)">3</text>
<text class="r" transform="matrix(0.4692 0 0 0.5778 2071.02 931.67)">(</text>
<text class="i" transform="matrix(0.6577 0 0 0.5860 2087.37 930.81)">t</text>
<text class="r" transform="matrix(0.4692 0 0 0.5778 2109.29 931.67)">)</text>
<rect x="682" y="915.9" width="18.8" height="2.6" fill="#000"/>
</g>
<g class="yl">
<g transform="translate(69 403) rotate(-90)">
<text class="i X" transform="matrix(0.5313 0 0 0.4394 -45.71 -0.44)">X</text>
<text class="r d" transform="matrix(0.3029 0 0 0.3030 -14.13 6.50)">1</text>
<text class="r" transform="matrix(0.4077 0 0 0.4689 5.67 0.35)">(</text>
<text class="i" transform="matrix(0.4808 0 0 0.4754 18.48 0.12)">t</text>
<text class="r" transform="matrix(0.4038 0 0 0.4689 35.19 0.35)">)</text>
</g>
<g transform="translate(1273 403) rotate(-90)">
<text class="i X" transform="matrix(0.5313 0 0 0.4394 -45.71 -0.44)">X</text>
<text class="r d" transform="matrix(0.2585 0 0 0.2985 -12.43 6.20)">2</text>
<text class="r" transform="matrix(0.4077 0 0 0.4689 5.67 0.35)">(</text>
<text class="i" transform="matrix(0.4808 0 0 0.4754 18.48 0.12)">t</text>
<text class="r" transform="matrix(0.4038 0 0 0.4689 35.19 0.35)">)</text>
</g>
<g transform="translate(69 1266) rotate(-90)">
<text class="i X" transform="matrix(0.5313 0 0 0.4394 -45.71 -0.44)">X</text>
<text class="r d" transform="matrix(0.2585 0 0 0.2985 -12.69 6.20)">3</text>
<text class="r" transform="matrix(0.4077 0 0 0.4689 5.67 0.35)">(</text>
<text class="i" transform="matrix(0.4808 0 0 0.4754 18.48 0.12)">t</text>
<text class="r" transform="matrix(0.4038 0 0 0.4689 35.19 0.35)">)</text>
</g>
<g transform="translate(1273 1266) rotate(-90)">
<text class="i X" transform="matrix(0.5194 0 0 0.4394 -38.34 -0.44)">X</text>
<text class="r" transform="matrix(0.4077 0 0 0.4689 -1.13 0.35)">(</text>
<text class="i" transform="matrix(0.5038 0 0 0.4754 11.18 0.12)">t</text>
<text class="r" transform="matrix(0.3885 0 0 0.4689 28.83 0.35)">)</text>
</g>
</g>
</svg>
</body></html>
